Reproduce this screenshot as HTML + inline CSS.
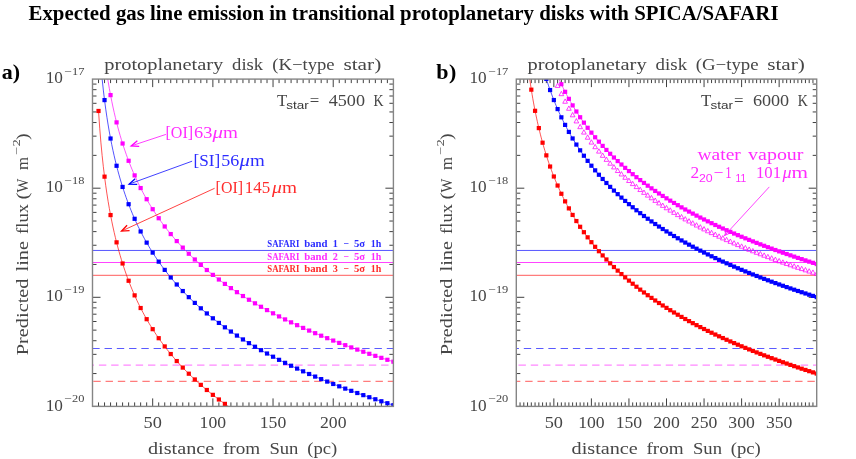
<!DOCTYPE html>
<html><head><meta charset="utf-8"><title>chart</title><style>html,body{margin:0;padding:0;background:#fff;}svg{display:block;will-change:transform;} svg text{font-family:"Liberation Serif",serif;} svg text.ss{font-family:"Liberation Sans",sans-serif;}</style></head><body>
<svg width="856" height="459" viewBox="0 0 856 459">
<rect width="856" height="459" fill="#fff"/>
<defs><clipPath id="clip1"><rect x="92.5" y="79.1" width="300.9" height="327.29999999999995"/></clipPath><clipPath id="clip2"><rect x="516.3" y="79.1" width="300.4000000000001" height="327.29999999999995"/></clipPath>
</defs>
<text x="28.50" y="19.55" font-size="20.5" fill="#000" font-weight="bold" textLength="750.00" lengthAdjust="spacingAndGlyphs">Expected gas line emission in transitional protoplanetary disks with SPICA/SAFARI</text>
<text transform="translate(1.80,78.70) scale(1,1)" font-size="22" fill="#000" font-weight="bold" textLength="18.30" lengthAdjust="spacing" >a)</text>
<text transform="translate(436.20,78.70) scale(1,1)" font-size="22" fill="#000" font-weight="bold" textLength="20.20" lengthAdjust="spacing" >b)</text>
<line x1="92.5" x2="393.4" y1="250.45" y2="250.45" stroke="#5656ff" stroke-width="1.0"/>
<line x1="92.5" x2="393.4" y1="262.5" y2="262.5" stroke="#ff44ff" stroke-width="1.0"/>
<line x1="92.5" x2="393.4" y1="275.3" y2="275.3" stroke="#ff7c7c" stroke-width="1.2"/>
<line x1="92.5" x2="393.4" y1="348.5" y2="348.5" stroke="#5a5aff" stroke-width="1.0" stroke-dasharray="7.4 4.87" stroke-dashoffset="0.23"/>
<line x1="92.5" x2="393.4" y1="365.15" y2="365.15" stroke="#ff88ff" stroke-width="1.4" stroke-dasharray="7.4 4.87" stroke-dashoffset="5.87"/>
<line x1="92.5" x2="393.4" y1="381.3" y2="381.3" stroke="#ff5c5c" stroke-width="1.0" stroke-dasharray="7.4 4.87" stroke-dashoffset="-0.8"/>
<path d="M98.52,79.1 v4 M98.52,406.4 v-4 M104.54,79.1 v4 M104.54,406.4 v-4 M110.55,79.1 v4 M110.55,406.4 v-4 M116.57,79.1 v4 M116.57,406.4 v-4 M122.59,79.1 v4 M122.59,406.4 v-4 M128.61,79.1 v4 M128.61,406.4 v-4 M134.63,79.1 v4 M134.63,406.4 v-4 M140.64,79.1 v4 M140.64,406.4 v-4 M146.66,79.1 v4 M146.66,406.4 v-4 M152.68,79.1 v8 M152.68,406.4 v-8 M158.70,79.1 v4 M158.70,406.4 v-4 M164.72,79.1 v4 M164.72,406.4 v-4 M170.73,79.1 v4 M170.73,406.4 v-4 M176.75,79.1 v4 M176.75,406.4 v-4 M182.77,79.1 v4 M182.77,406.4 v-4 M188.79,79.1 v4 M188.79,406.4 v-4 M194.81,79.1 v4 M194.81,406.4 v-4 M200.82,79.1 v4 M200.82,406.4 v-4 M206.84,79.1 v4 M206.84,406.4 v-4 M212.86,79.1 v8 M212.86,406.4 v-8 M218.88,79.1 v4 M218.88,406.4 v-4 M224.90,79.1 v4 M224.90,406.4 v-4 M230.91,79.1 v4 M230.91,406.4 v-4 M236.93,79.1 v4 M236.93,406.4 v-4 M242.95,79.1 v4 M242.95,406.4 v-4 M248.97,79.1 v4 M248.97,406.4 v-4 M254.99,79.1 v4 M254.99,406.4 v-4 M261.00,79.1 v4 M261.00,406.4 v-4 M267.02,79.1 v4 M267.02,406.4 v-4 M273.04,79.1 v8 M273.04,406.4 v-8 M279.06,79.1 v4 M279.06,406.4 v-4 M285.08,79.1 v4 M285.08,406.4 v-4 M291.09,79.1 v4 M291.09,406.4 v-4 M297.11,79.1 v4 M297.11,406.4 v-4 M303.13,79.1 v4 M303.13,406.4 v-4 M309.15,79.1 v4 M309.15,406.4 v-4 M315.17,79.1 v4 M315.17,406.4 v-4 M321.18,79.1 v4 M321.18,406.4 v-4 M327.20,79.1 v4 M327.20,406.4 v-4 M333.22,79.1 v8 M333.22,406.4 v-8 M339.24,79.1 v4 M339.24,406.4 v-4 M345.26,79.1 v4 M345.26,406.4 v-4 M351.27,79.1 v4 M351.27,406.4 v-4 M357.29,79.1 v4 M357.29,406.4 v-4 M363.31,79.1 v4 M363.31,406.4 v-4 M369.33,79.1 v4 M369.33,406.4 v-4 M375.35,79.1 v4 M375.35,406.4 v-4 M381.36,79.1 v4 M381.36,406.4 v-4 M387.38,79.1 v4 M387.38,406.4 v-4 M92.5,188.20 h8 M393.4,188.20 h-8 M92.5,155.36 h4 M393.4,155.36 h-4 M92.5,136.15 h4 M393.4,136.15 h-4 M92.5,122.52 h4 M393.4,122.52 h-4 M92.5,111.94 h4 M393.4,111.94 h-4 M92.5,103.30 h4 M393.4,103.30 h-4 M92.5,96.00 h4 M393.4,96.00 h-4 M92.5,89.67 h4 M393.4,89.67 h-4 M92.5,84.09 h4 M393.4,84.09 h-4 M92.5,297.30 h8 M393.4,297.30 h-8 M92.5,264.46 h4 M393.4,264.46 h-4 M92.5,245.25 h4 M393.4,245.25 h-4 M92.5,231.62 h4 M393.4,231.62 h-4 M92.5,221.04 h4 M393.4,221.04 h-4 M92.5,212.40 h4 M393.4,212.40 h-4 M92.5,205.10 h4 M393.4,205.10 h-4 M92.5,198.77 h4 M393.4,198.77 h-4 M92.5,193.19 h4 M393.4,193.19 h-4 M92.5,406.40 h8 M393.4,406.40 h-8 M92.5,373.56 h4 M393.4,373.56 h-4 M92.5,354.35 h4 M393.4,354.35 h-4 M92.5,340.72 h4 M393.4,340.72 h-4 M92.5,330.14 h4 M393.4,330.14 h-4 M92.5,321.50 h4 M393.4,321.50 h-4 M92.5,314.20 h4 M393.4,314.20 h-4 M92.5,307.87 h4 M393.4,307.87 h-4 M92.5,302.29 h4 M393.4,302.29 h-4" stroke="#2a2a2a" stroke-width="0.9" fill="none"/>
<g clip-path="url(#clip1)">
<polyline fill="none" stroke="#ff0000" stroke-width="0.8" stroke-opacity="0.85" points="98.52,110.97 99.72,128.24 100.93,142.85 102.13,155.51 103.33,166.67 104.54,176.65 105.74,185.68 106.94,193.93 108.15,201.51 109.35,208.54 110.55,215.07 111.76,221.19 112.96,226.94 114.16,232.35 115.37,237.48 116.57,242.34 117.78,246.96 118.98,251.37 120.18,255.58 121.39,259.61 122.59,263.48 123.79,267.20 125.00,270.78 126.20,274.22 127.40,277.55 128.61,280.76 129.81,283.87 131.02,286.88 132.22,289.79 133.42,292.62 134.63,295.37 135.83,298.04 137.03,300.63 138.24,303.16 139.44,305.62 140.64,308.02 141.85,310.36 143.05,312.64 144.25,314.87 145.46,317.05 146.66,319.18 147.87,321.27 149.07,323.30 150.27,325.30 151.48,327.25 152.68,329.17 153.88,331.04 155.09,332.88 156.29,334.69 157.49,336.46 158.70,338.20 159.90,339.91 161.11,341.58 162.31,343.23 163.51,344.85 164.72,346.44 165.92,348.01 167.12,349.55 168.33,351.07 169.53,352.56 170.73,354.03 171.94,355.48 173.14,356.90 174.34,358.31 175.55,359.69 176.75,361.05 177.96,362.40 179.16,363.72 180.36,365.03 181.57,366.32 182.77,367.59 183.97,368.85 185.18,370.08 186.38,371.31 187.58,372.51 188.79,373.71 189.99,374.88 191.20,376.05 192.40,377.19 193.60,378.33 194.81,379.45 196.01,380.56 197.21,381.65 198.42,382.74 199.62,383.81 200.82,384.87 202.03,385.91 203.23,386.95 204.43,387.97 205.64,388.99 206.84,389.99 208.05,390.98 209.25,391.97 210.45,392.94 211.66,393.90 212.86,394.85 214.06,395.79 215.27,396.73 216.47,397.65 217.67,398.57 218.88,399.48 220.08,400.37 221.29,401.26 222.49,402.14 223.69,403.02 224.90,403.88 226.10,404.74 227.30,405.59 228.51,406.43 229.71,407.27 230.91,408.10 232.12,408.92 233.32,409.73 234.52,410.54 235.73,411.34 236.93,412.13 238.14,412.92 239.34,413.70 240.54,414.47 241.75,415.24 242.95,416.00 244.15,416.75 245.36,417.50 246.56,418.24 247.76,418.98 248.97,419.71 250.17,420.44 251.38,421.16 252.58,421.88 253.78,422.59 254.99,423.29 256.19,423.99 257.39,424.68 258.60,425.37 259.80,426.06 261.00,426.74 262.21,427.41 263.41,428.08 264.61,428.75 265.82,429.41 267.02,430.06 268.23,430.71 269.43,431.36 270.63,432.00 271.84,432.64 273.04,433.27 274.24,433.90 275.45,434.53 276.65,435.15 277.85,435.77 279.06,436.38 280.26,436.99 281.47,437.60 282.67,438.20 283.87,438.80 285.08,439.39 286.28,439.98 287.48,440.57 288.69,441.15 289.89,441.73 291.09,442.31 292.30,442.88 293.50,443.45 294.70,444.01 295.91,444.58 297.11,445.14 298.32,445.69 299.52,446.24 300.72,446.79 301.93,447.34 303.13,447.88 304.33,448.42 305.54,448.96 306.74,449.49 307.94,450.02 309.15,450.55 310.35,451.08 311.56,451.60 312.76,452.12 313.96,452.63 315.17,453.15 316.37,453.66 317.57,454.17 318.78,454.67 319.98,455.18 321.18,455.68 322.39,456.17 323.59,456.67 324.79,457.16 326.00,457.65 327.20,458.14 328.41,458.62 329.61,459.10 330.81,459.58 332.02,460.06 333.22,460.54 334.42,461.01 335.63,461.48 336.83,461.95 338.03,462.41 339.24,462.88 340.44,463.34 341.65,463.80 342.85,464.25 344.05,464.71 345.26,465.16 346.46,465.61 347.66,466.06 348.87,466.50 350.07,466.95 351.27,467.39 352.48,467.83 353.68,468.27 354.88,468.70 356.09,469.14 357.29,469.57 358.50,470.00 359.70,470.43 360.90,470.85 362.11,471.28 363.31,471.70 364.51,472.12 365.72,472.54 366.92,472.95 368.12,473.37 369.33,473.78 370.53,474.19 371.74,474.60 372.94,475.01 374.14,475.41 375.35,475.82 376.55,476.22 377.75,476.62 378.96,477.02 380.16,477.42 381.36,477.81 382.57,478.21 383.77,478.60 384.97,478.99 386.18,479.38 387.38,479.77 388.59,480.15 389.79,480.54 390.99,480.92 392.20,481.30 393.40,481.68"/>
<g fill="#ff0000"><rect x="96.42" y="108.87" width="4.2" height="4.2"/><rect x="102.44" y="174.55" width="4.2" height="4.2"/><rect x="108.45" y="212.97" width="4.2" height="4.2"/><rect x="114.47" y="240.24" width="4.2" height="4.2"/><rect x="120.49" y="261.38" width="4.2" height="4.2"/><rect x="126.51" y="278.66" width="4.2" height="4.2"/><rect x="132.53" y="293.27" width="4.2" height="4.2"/><rect x="138.54" y="305.92" width="4.2" height="4.2"/><rect x="144.56" y="317.08" width="4.2" height="4.2"/><rect x="150.58" y="327.07" width="4.2" height="4.2"/><rect x="156.60" y="336.10" width="4.2" height="4.2"/><rect x="162.62" y="344.34" width="4.2" height="4.2"/><rect x="168.63" y="351.93" width="4.2" height="4.2"/><rect x="174.65" y="358.95" width="4.2" height="4.2"/><rect x="180.67" y="365.49" width="4.2" height="4.2"/><rect x="186.69" y="371.61" width="4.2" height="4.2"/><rect x="192.71" y="377.35" width="4.2" height="4.2"/><rect x="198.72" y="382.77" width="4.2" height="4.2"/><rect x="204.74" y="387.89" width="4.2" height="4.2"/><rect x="210.76" y="392.75" width="4.2" height="4.2"/><rect x="216.78" y="397.38" width="4.2" height="4.2"/><rect x="222.80" y="401.78" width="4.2" height="4.2"/><rect x="228.81" y="406.00" width="4.2" height="4.2"/><rect x="234.83" y="410.03" width="4.2" height="4.2"/><rect x="240.85" y="413.90" width="4.2" height="4.2"/><rect x="246.87" y="417.61" width="4.2" height="4.2"/><rect x="252.89" y="421.19" width="4.2" height="4.2"/><rect x="258.90" y="424.64" width="4.2" height="4.2"/><rect x="264.92" y="427.96" width="4.2" height="4.2"/><rect x="270.94" y="431.17" width="4.2" height="4.2"/><rect x="276.96" y="434.28" width="4.2" height="4.2"/><rect x="282.98" y="437.29" width="4.2" height="4.2"/><rect x="288.99" y="440.21" width="4.2" height="4.2"/><rect x="295.01" y="443.04" width="4.2" height="4.2"/><rect x="301.03" y="445.78" width="4.2" height="4.2"/><rect x="307.05" y="448.45" width="4.2" height="4.2"/><rect x="313.07" y="451.05" width="4.2" height="4.2"/><rect x="319.08" y="453.58" width="4.2" height="4.2"/><rect x="325.10" y="456.04" width="4.2" height="4.2"/><rect x="331.12" y="458.44" width="4.2" height="4.2"/><rect x="337.14" y="460.78" width="4.2" height="4.2"/><rect x="343.16" y="463.06" width="4.2" height="4.2"/><rect x="349.17" y="465.29" width="4.2" height="4.2"/><rect x="355.19" y="467.47" width="4.2" height="4.2"/><rect x="361.21" y="469.60" width="4.2" height="4.2"/><rect x="367.23" y="471.68" width="4.2" height="4.2"/><rect x="373.25" y="473.72" width="4.2" height="4.2"/><rect x="379.26" y="475.71" width="4.2" height="4.2"/><rect x="385.28" y="477.67" width="4.2" height="4.2"/><rect x="391.30" y="479.58" width="4.2" height="4.2"/></g>
<polyline fill="none" stroke="#0000ff" stroke-width="0.8" stroke-opacity="0.85" points="98.52,34.41 99.72,51.69 100.93,66.30 102.13,78.95 103.33,90.11 104.54,100.10 105.74,109.13 106.94,117.38 108.15,124.96 109.35,131.98 110.55,138.52 111.76,144.64 112.96,150.38 114.16,155.80 115.37,160.92 116.57,165.78 117.78,170.41 118.98,174.81 120.18,179.03 121.39,183.06 122.59,186.93 123.79,190.65 125.00,194.22 126.20,197.67 127.40,200.99 128.61,204.21 129.81,207.31 131.02,210.32 132.22,213.24 133.42,216.07 134.63,218.81 135.83,221.48 137.03,224.08 138.24,226.61 139.44,229.07 140.64,231.47 141.85,233.81 143.05,236.09 144.25,238.32 145.46,240.50 146.66,242.63 147.87,244.71 149.07,246.75 150.27,248.74 151.48,250.70 152.68,252.61 153.88,254.49 155.09,256.33 156.29,258.13 157.49,259.91 158.70,261.65 159.90,263.35 161.11,265.03 162.31,266.68 163.51,268.30 164.72,269.89 165.92,271.46 167.12,273.00 168.33,274.51 169.53,276.01 170.73,277.48 171.94,278.92 173.14,280.35 174.34,281.75 175.55,283.13 176.75,284.50 177.96,285.84 179.16,287.17 180.36,288.47 181.57,289.76 182.77,291.04 183.97,292.29 185.18,293.53 186.38,294.75 187.58,295.96 188.79,297.15 189.99,298.33 191.20,299.49 192.40,300.64 193.60,301.78 194.81,302.90 196.01,304.01 197.21,305.10 198.42,306.18 199.62,307.25 200.82,308.31 202.03,309.36 203.23,310.40 204.43,311.42 205.64,312.43 206.84,313.44 208.05,314.43 209.25,315.41 210.45,316.38 211.66,317.35 212.86,318.30 214.06,319.24 215.27,320.17 216.47,321.10 217.67,322.01 218.88,322.92 220.08,323.82 221.29,324.71 222.49,325.59 223.69,326.46 224.90,327.33 226.10,328.19 227.30,329.04 228.51,329.88 229.71,330.71 230.91,331.54 232.12,332.36 233.32,333.18 234.52,333.98 235.73,334.78 236.93,335.58 238.14,336.36 239.34,337.14 240.54,337.92 241.75,338.68 242.95,339.44 244.15,340.20 245.36,340.95 246.56,341.69 247.76,342.43 248.97,343.16 250.17,343.89 251.38,344.61 252.58,345.32 253.78,346.03 254.99,346.74 256.19,347.44 257.39,348.13 258.60,348.82 259.80,349.50 261.00,350.18 262.21,350.86 263.41,351.53 264.61,352.19 265.82,352.85 267.02,353.51 268.23,354.16 269.43,354.81 270.63,355.45 271.84,356.09 273.04,356.72 274.24,357.35 275.45,357.98 276.65,358.60 277.85,359.21 279.06,359.83 280.26,360.44 281.47,361.04 282.67,361.64 283.87,362.24 285.08,362.84 286.28,363.43 287.48,364.01 288.69,364.60 289.89,365.18 291.09,365.75 292.30,366.33 293.50,366.89 294.70,367.46 295.91,368.02 297.11,368.58 298.32,369.14 299.52,369.69 300.72,370.24 301.93,370.79 303.13,371.33 304.33,371.87 305.54,372.41 306.74,372.94 307.94,373.47 309.15,374.00 310.35,374.52 311.56,375.05 312.76,375.56 313.96,376.08 315.17,376.59 316.37,377.11 317.57,377.61 318.78,378.12 319.98,378.62 321.18,379.12 322.39,379.62 323.59,380.11 324.79,380.61 326.00,381.10 327.20,381.58 328.41,382.07 329.61,382.55 330.81,383.03 332.02,383.51 333.22,383.98 334.42,384.46 335.63,384.93 336.83,385.39 338.03,385.86 339.24,386.32 340.44,386.78 341.65,387.24 342.85,387.70 344.05,388.15 345.26,388.61 346.46,389.06 347.66,389.50 348.87,389.95 350.07,390.39 351.27,390.84 352.48,391.28 353.68,391.71 354.88,392.15 356.09,392.58 357.29,393.01 358.50,393.44 359.70,393.87 360.90,394.30 362.11,394.72 363.31,395.14 364.51,395.56 365.72,395.98 366.92,396.40 368.12,396.81 369.33,397.23 370.53,397.64 371.74,398.05 372.94,398.45 374.14,398.86 375.35,399.26 376.55,399.67 377.75,400.07 378.96,400.47 380.16,400.86 381.36,401.26 382.57,401.65 383.77,402.05 384.97,402.44 386.18,402.83 387.38,403.21 388.59,403.60 389.79,403.98 390.99,404.37 392.20,404.75 393.40,405.13"/>
<g fill="#0000ff"><rect x="96.42" y="32.31" width="4.2" height="4.2"/><rect x="102.44" y="98.00" width="4.2" height="4.2"/><rect x="108.45" y="136.42" width="4.2" height="4.2"/><rect x="114.47" y="163.68" width="4.2" height="4.2"/><rect x="120.49" y="184.83" width="4.2" height="4.2"/><rect x="126.51" y="202.11" width="4.2" height="4.2"/><rect x="132.53" y="216.71" width="4.2" height="4.2"/><rect x="138.54" y="229.37" width="4.2" height="4.2"/><rect x="144.56" y="240.53" width="4.2" height="4.2"/><rect x="150.58" y="250.51" width="4.2" height="4.2"/><rect x="156.60" y="259.55" width="4.2" height="4.2"/><rect x="162.62" y="267.79" width="4.2" height="4.2"/><rect x="168.63" y="275.38" width="4.2" height="4.2"/><rect x="174.65" y="282.40" width="4.2" height="4.2"/><rect x="180.67" y="288.94" width="4.2" height="4.2"/><rect x="186.69" y="295.05" width="4.2" height="4.2"/><rect x="192.71" y="300.80" width="4.2" height="4.2"/><rect x="198.72" y="306.21" width="4.2" height="4.2"/><rect x="204.74" y="311.34" width="4.2" height="4.2"/><rect x="210.76" y="316.20" width="4.2" height="4.2"/><rect x="216.78" y="320.82" width="4.2" height="4.2"/><rect x="222.80" y="325.23" width="4.2" height="4.2"/><rect x="228.81" y="329.44" width="4.2" height="4.2"/><rect x="234.83" y="333.48" width="4.2" height="4.2"/><rect x="240.85" y="337.34" width="4.2" height="4.2"/><rect x="246.87" y="341.06" width="4.2" height="4.2"/><rect x="252.89" y="344.64" width="4.2" height="4.2"/><rect x="258.90" y="348.08" width="4.2" height="4.2"/><rect x="264.92" y="351.41" width="4.2" height="4.2"/><rect x="270.94" y="354.62" width="4.2" height="4.2"/><rect x="276.96" y="357.73" width="4.2" height="4.2"/><rect x="282.98" y="360.74" width="4.2" height="4.2"/><rect x="288.99" y="363.65" width="4.2" height="4.2"/><rect x="295.01" y="366.48" width="4.2" height="4.2"/><rect x="301.03" y="369.23" width="4.2" height="4.2"/><rect x="307.05" y="371.90" width="4.2" height="4.2"/><rect x="313.07" y="374.49" width="4.2" height="4.2"/><rect x="319.08" y="377.02" width="4.2" height="4.2"/><rect x="325.10" y="379.48" width="4.2" height="4.2"/><rect x="331.12" y="381.88" width="4.2" height="4.2"/><rect x="337.14" y="384.22" width="4.2" height="4.2"/><rect x="343.16" y="386.51" width="4.2" height="4.2"/><rect x="349.17" y="388.74" width="4.2" height="4.2"/><rect x="355.19" y="390.91" width="4.2" height="4.2"/><rect x="361.21" y="393.04" width="4.2" height="4.2"/><rect x="367.23" y="395.13" width="4.2" height="4.2"/><rect x="373.25" y="397.16" width="4.2" height="4.2"/><rect x="379.26" y="399.16" width="4.2" height="4.2"/><rect x="385.28" y="401.11" width="4.2" height="4.2"/><rect x="391.30" y="403.03" width="4.2" height="4.2"/></g>
<polyline fill="none" stroke="#ff00ff" stroke-width="0.8" stroke-opacity="0.85" points="98.52,-9.00 99.72,8.28 100.93,22.88 102.13,35.54 103.33,46.70 104.54,56.68 105.74,65.71 106.94,73.96 108.15,81.55 109.35,88.57 110.55,95.11 111.76,101.22 112.96,106.97 114.16,112.38 115.37,117.51 116.57,122.37 117.78,126.99 118.98,131.40 120.18,135.61 121.39,139.64 122.59,143.51 123.79,147.23 125.00,150.81 126.20,154.25 127.40,157.58 128.61,160.79 129.81,163.90 131.02,166.91 132.22,169.82 133.42,172.65 134.63,175.40 135.83,178.07 137.03,180.66 138.24,183.19 139.44,185.65 140.64,188.05 141.85,190.39 143.05,192.68 144.25,194.91 145.46,197.08 146.66,199.21 147.87,201.30 149.07,203.33 150.27,205.33 151.48,207.28 152.68,209.20 153.88,211.07 155.09,212.91 156.29,214.72 157.49,216.49 158.70,218.23 159.90,219.94 161.11,221.61 162.31,223.26 163.51,224.88 164.72,226.48 165.92,228.04 167.12,229.58 168.33,231.10 169.53,232.59 170.73,234.06 171.94,235.51 173.14,236.93 174.34,238.34 175.55,239.72 176.75,241.08 177.96,242.43 179.16,243.75 180.36,245.06 181.57,246.35 182.77,247.62 183.97,248.88 185.18,250.11 186.38,251.34 187.58,252.54 188.79,253.74 189.99,254.91 191.20,256.08 192.40,257.23 193.60,258.36 194.81,259.48 196.01,260.59 197.21,261.69 198.42,262.77 199.62,263.84 200.82,264.90 202.03,265.95 203.23,266.98 204.43,268.01 205.64,269.02 206.84,270.02 208.05,271.01 209.25,272.00 210.45,272.97 211.66,273.93 212.86,274.88 214.06,275.83 215.27,276.76 216.47,277.68 217.67,278.60 218.88,279.51 220.08,280.40 221.29,281.29 222.49,282.18 223.69,283.05 224.90,283.91 226.10,284.77 227.30,285.62 228.51,286.46 229.71,287.30 230.91,288.13 232.12,288.95 233.32,289.76 234.52,290.57 235.73,291.37 236.93,292.16 238.14,292.95 239.34,293.73 240.54,294.50 241.75,295.27 242.95,296.03 244.15,296.78 245.36,297.53 246.56,298.28 247.76,299.01 248.97,299.75 250.17,300.47 251.38,301.19 252.58,301.91 253.78,302.62 254.99,303.32 256.19,304.02 257.39,304.72 258.60,305.40 259.80,306.09 261.00,306.77 262.21,307.44 263.41,308.11 264.61,308.78 265.82,309.44 267.02,310.09 268.23,310.74 269.43,311.39 270.63,312.03 271.84,312.67 273.04,313.31 274.24,313.94 275.45,314.56 276.65,315.18 277.85,315.80 279.06,316.41 280.26,317.02 281.47,317.63 282.67,318.23 283.87,318.83 285.08,319.42 286.28,320.01 287.48,320.60 288.69,321.18 289.89,321.76 291.09,322.34 292.30,322.91 293.50,323.48 294.70,324.05 295.91,324.61 297.11,325.17 298.32,325.72 299.52,326.27 300.72,326.82 301.93,327.37 303.13,327.91 304.33,328.45 305.54,328.99 306.74,329.52 307.94,330.06 309.15,330.58 310.35,331.11 311.56,331.63 312.76,332.15 313.96,332.67 315.17,333.18 316.37,333.69 317.57,334.20 318.78,334.70 319.98,335.21 321.18,335.71 322.39,336.20 323.59,336.70 324.79,337.19 326.00,337.68 327.20,338.17 328.41,338.65 329.61,339.14 330.81,339.62 332.02,340.09 333.22,340.57 334.42,341.04 335.63,341.51 336.83,341.98 338.03,342.44 339.24,342.91 340.44,343.37 341.65,343.83 342.85,344.28 344.05,344.74 345.26,345.19 346.46,345.64 347.66,346.09 348.87,346.54 350.07,346.98 351.27,347.42 352.48,347.86 353.68,348.30 354.88,348.73 356.09,349.17 357.29,349.60 358.50,350.03 359.70,350.46 360.90,350.88 362.11,351.31 363.31,351.73 364.51,352.15 365.72,352.57 366.92,352.98 368.12,353.40 369.33,353.81 370.53,354.22 371.74,354.63 372.94,355.04 374.14,355.45 375.35,355.85 376.55,356.25 377.75,356.65 378.96,357.05 380.16,357.45 381.36,357.84 382.57,358.24 383.77,358.63 384.97,359.02 386.18,359.41 387.38,359.80 388.59,360.18 389.79,360.57 390.99,360.95 392.20,361.33 393.40,361.71"/>
<g fill="#ff00ff"><rect x="96.42" y="-11.10" width="4.2" height="4.2"/><rect x="102.44" y="54.58" width="4.2" height="4.2"/><rect x="108.45" y="93.01" width="4.2" height="4.2"/><rect x="114.47" y="120.27" width="4.2" height="4.2"/><rect x="120.49" y="141.41" width="4.2" height="4.2"/><rect x="126.51" y="158.69" width="4.2" height="4.2"/><rect x="132.53" y="173.30" width="4.2" height="4.2"/><rect x="138.54" y="185.95" width="4.2" height="4.2"/><rect x="144.56" y="197.11" width="4.2" height="4.2"/><rect x="150.58" y="207.10" width="4.2" height="4.2"/><rect x="156.60" y="216.13" width="4.2" height="4.2"/><rect x="162.62" y="224.38" width="4.2" height="4.2"/><rect x="168.63" y="231.96" width="4.2" height="4.2"/><rect x="174.65" y="238.98" width="4.2" height="4.2"/><rect x="180.67" y="245.52" width="4.2" height="4.2"/><rect x="186.69" y="251.64" width="4.2" height="4.2"/><rect x="192.71" y="257.38" width="4.2" height="4.2"/><rect x="198.72" y="262.80" width="4.2" height="4.2"/><rect x="204.74" y="267.92" width="4.2" height="4.2"/><rect x="210.76" y="272.78" width="4.2" height="4.2"/><rect x="216.78" y="277.41" width="4.2" height="4.2"/><rect x="222.80" y="281.81" width="4.2" height="4.2"/><rect x="228.81" y="286.03" width="4.2" height="4.2"/><rect x="234.83" y="290.06" width="4.2" height="4.2"/><rect x="240.85" y="293.93" width="4.2" height="4.2"/><rect x="246.87" y="297.65" width="4.2" height="4.2"/><rect x="252.89" y="301.22" width="4.2" height="4.2"/><rect x="258.90" y="304.67" width="4.2" height="4.2"/><rect x="264.92" y="307.99" width="4.2" height="4.2"/><rect x="270.94" y="311.21" width="4.2" height="4.2"/><rect x="276.96" y="314.31" width="4.2" height="4.2"/><rect x="282.98" y="317.32" width="4.2" height="4.2"/><rect x="288.99" y="320.24" width="4.2" height="4.2"/><rect x="295.01" y="323.07" width="4.2" height="4.2"/><rect x="301.03" y="325.81" width="4.2" height="4.2"/><rect x="307.05" y="328.48" width="4.2" height="4.2"/><rect x="313.07" y="331.08" width="4.2" height="4.2"/><rect x="319.08" y="333.61" width="4.2" height="4.2"/><rect x="325.10" y="336.07" width="4.2" height="4.2"/><rect x="331.12" y="338.47" width="4.2" height="4.2"/><rect x="337.14" y="340.81" width="4.2" height="4.2"/><rect x="343.16" y="343.09" width="4.2" height="4.2"/><rect x="349.17" y="345.32" width="4.2" height="4.2"/><rect x="355.19" y="347.50" width="4.2" height="4.2"/><rect x="361.21" y="349.63" width="4.2" height="4.2"/><rect x="367.23" y="351.71" width="4.2" height="4.2"/><rect x="373.25" y="353.75" width="4.2" height="4.2"/><rect x="379.26" y="355.74" width="4.2" height="4.2"/><rect x="385.28" y="357.70" width="4.2" height="4.2"/><rect x="391.30" y="359.61" width="4.2" height="4.2"/></g>
</g>
<rect x="92.5" y="79.1" width="300.9" height="327.29999999999995" fill="none" stroke="#858585" stroke-width="1.4"/>
<text x="45.70" y="83.20" font-size="16" fill="#464646" font-weight="normal" textLength="17.20" lengthAdjust="spacingAndGlyphs">10</text>
<text x="64.10" y="74.60" font-size="10.8" fill="#464646" font-weight="normal" textLength="7.60" lengthAdjust="spacingAndGlyphs">−</text>
<text x="72.10" y="74.60" font-size="10.8" fill="#464646" font-weight="normal" textLength="12.40" lengthAdjust="spacingAndGlyphs">17</text>
<text x="45.70" y="192.30" font-size="16" fill="#464646" font-weight="normal" textLength="17.20" lengthAdjust="spacingAndGlyphs">10</text>
<text x="64.10" y="183.70" font-size="10.8" fill="#464646" font-weight="normal" textLength="7.60" lengthAdjust="spacingAndGlyphs">−</text>
<text x="72.10" y="183.70" font-size="10.8" fill="#464646" font-weight="normal" textLength="12.40" lengthAdjust="spacingAndGlyphs">18</text>
<text x="45.70" y="301.40" font-size="16" fill="#464646" font-weight="normal" textLength="17.20" lengthAdjust="spacingAndGlyphs">10</text>
<text x="64.10" y="292.80" font-size="10.8" fill="#464646" font-weight="normal" textLength="7.60" lengthAdjust="spacingAndGlyphs">−</text>
<text x="72.10" y="292.80" font-size="10.8" fill="#464646" font-weight="normal" textLength="12.40" lengthAdjust="spacingAndGlyphs">19</text>
<text x="45.70" y="410.50" font-size="16" fill="#464646" font-weight="normal" textLength="17.20" lengthAdjust="spacingAndGlyphs">10</text>
<text x="64.10" y="401.90" font-size="10.8" fill="#464646" font-weight="normal" textLength="7.60" lengthAdjust="spacingAndGlyphs">−</text>
<text x="72.10" y="401.90" font-size="10.8" fill="#464646" font-weight="normal" textLength="12.40" lengthAdjust="spacingAndGlyphs">20</text>
<text x="143.53" y="427.60" font-size="16" fill="#464646" font-weight="normal" textLength="18.30" lengthAdjust="spacingAndGlyphs">50</text>
<text x="199.61" y="427.60" font-size="16" fill="#464646" font-weight="normal" textLength="26.50" lengthAdjust="spacingAndGlyphs">100</text>
<text x="259.79" y="427.60" font-size="16" fill="#464646" font-weight="normal" textLength="26.50" lengthAdjust="spacingAndGlyphs">150</text>
<text x="319.97" y="427.60" font-size="16" fill="#464646" font-weight="normal" textLength="26.50" lengthAdjust="spacingAndGlyphs">200</text>
<path d="M769.3,186.9 L724,236.2" stroke="#ff30ff" stroke-width="0.9" fill="none"/>
<line x1="516.3" x2="816.7" y1="250.45" y2="250.45" stroke="#5656ff" stroke-width="1.0"/>
<line x1="516.3" x2="816.7" y1="262.5" y2="262.5" stroke="#ff44ff" stroke-width="1.0"/>
<line x1="516.3" x2="816.7" y1="275.3" y2="275.3" stroke="#ff7c7c" stroke-width="1.2"/>
<line x1="516.3" x2="816.7" y1="348.5" y2="348.5" stroke="#5a5aff" stroke-width="1.0" stroke-dasharray="7.4 4.87" stroke-dashoffset="4.77"/>
<line x1="516.3" x2="816.7" y1="365.15" y2="365.15" stroke="#ff88ff" stroke-width="1.4" stroke-dasharray="7.4 4.87" stroke-dashoffset="10.07"/>
<line x1="516.3" x2="816.7" y1="381.3" y2="381.3" stroke="#ff5c5c" stroke-width="1.0" stroke-dasharray="7.4 4.87" stroke-dashoffset="3.37"/>
<path d="M520.05,79.1 v4 M520.05,406.4 v-4 M523.81,79.1 v4 M523.81,406.4 v-4 M527.56,79.1 v4 M527.56,406.4 v-4 M531.32,79.1 v4 M531.32,406.4 v-4 M535.07,79.1 v4 M535.07,406.4 v-4 M538.83,79.1 v4 M538.83,406.4 v-4 M542.58,79.1 v4 M542.58,406.4 v-4 M546.34,79.1 v4 M546.34,406.4 v-4 M550.09,79.1 v4 M550.09,406.4 v-4 M553.85,79.1 v8 M553.85,406.4 v-8 M557.61,79.1 v4 M557.61,406.4 v-4 M561.36,79.1 v4 M561.36,406.4 v-4 M565.12,79.1 v4 M565.12,406.4 v-4 M568.87,79.1 v4 M568.87,406.4 v-4 M572.62,79.1 v4 M572.62,406.4 v-4 M576.38,79.1 v4 M576.38,406.4 v-4 M580.13,79.1 v4 M580.13,406.4 v-4 M583.89,79.1 v4 M583.89,406.4 v-4 M587.64,79.1 v4 M587.64,406.4 v-4 M591.40,79.1 v8 M591.40,406.4 v-8 M595.15,79.1 v4 M595.15,406.4 v-4 M598.91,79.1 v4 M598.91,406.4 v-4 M602.66,79.1 v4 M602.66,406.4 v-4 M606.42,79.1 v4 M606.42,406.4 v-4 M610.17,79.1 v4 M610.17,406.4 v-4 M613.93,79.1 v4 M613.93,406.4 v-4 M617.68,79.1 v4 M617.68,406.4 v-4 M621.44,79.1 v4 M621.44,406.4 v-4 M625.19,79.1 v4 M625.19,406.4 v-4 M628.95,79.1 v8 M628.95,406.4 v-8 M632.70,79.1 v4 M632.70,406.4 v-4 M636.46,79.1 v4 M636.46,406.4 v-4 M640.22,79.1 v4 M640.22,406.4 v-4 M643.97,79.1 v4 M643.97,406.4 v-4 M647.73,79.1 v4 M647.73,406.4 v-4 M651.48,79.1 v4 M651.48,406.4 v-4 M655.24,79.1 v4 M655.24,406.4 v-4 M658.99,79.1 v4 M658.99,406.4 v-4 M662.75,79.1 v4 M662.75,406.4 v-4 M666.50,79.1 v8 M666.50,406.4 v-8 M670.25,79.1 v4 M670.25,406.4 v-4 M674.01,79.1 v4 M674.01,406.4 v-4 M677.76,79.1 v4 M677.76,406.4 v-4 M681.52,79.1 v4 M681.52,406.4 v-4 M685.27,79.1 v4 M685.27,406.4 v-4 M689.03,79.1 v4 M689.03,406.4 v-4 M692.78,79.1 v4 M692.78,406.4 v-4 M696.54,79.1 v4 M696.54,406.4 v-4 M700.30,79.1 v4 M700.30,406.4 v-4 M704.05,79.1 v8 M704.05,406.4 v-8 M707.81,79.1 v4 M707.81,406.4 v-4 M711.56,79.1 v4 M711.56,406.4 v-4 M715.32,79.1 v4 M715.32,406.4 v-4 M719.07,79.1 v4 M719.07,406.4 v-4 M722.83,79.1 v4 M722.83,406.4 v-4 M726.58,79.1 v4 M726.58,406.4 v-4 M730.34,79.1 v4 M730.34,406.4 v-4 M734.09,79.1 v4 M734.09,406.4 v-4 M737.85,79.1 v4 M737.85,406.4 v-4 M741.60,79.1 v8 M741.60,406.4 v-8 M745.36,79.1 v4 M745.36,406.4 v-4 M749.11,79.1 v4 M749.11,406.4 v-4 M752.87,79.1 v4 M752.87,406.4 v-4 M756.62,79.1 v4 M756.62,406.4 v-4 M760.38,79.1 v4 M760.38,406.4 v-4 M764.13,79.1 v4 M764.13,406.4 v-4 M767.88,79.1 v4 M767.88,406.4 v-4 M771.64,79.1 v4 M771.64,406.4 v-4 M775.39,79.1 v4 M775.39,406.4 v-4 M779.15,79.1 v8 M779.15,406.4 v-8 M782.90,79.1 v4 M782.90,406.4 v-4 M786.66,79.1 v4 M786.66,406.4 v-4 M790.41,79.1 v4 M790.41,406.4 v-4 M794.17,79.1 v4 M794.17,406.4 v-4 M797.92,79.1 v4 M797.92,406.4 v-4 M801.68,79.1 v4 M801.68,406.4 v-4 M805.44,79.1 v4 M805.44,406.4 v-4 M809.19,79.1 v4 M809.19,406.4 v-4 M812.95,79.1 v4 M812.95,406.4 v-4 M516.3,188.20 h8 M816.7,188.20 h-8 M516.3,155.36 h4 M816.7,155.36 h-4 M516.3,136.15 h4 M816.7,136.15 h-4 M516.3,122.52 h4 M816.7,122.52 h-4 M516.3,111.94 h4 M816.7,111.94 h-4 M516.3,103.30 h4 M816.7,103.30 h-4 M516.3,96.00 h4 M816.7,96.00 h-4 M516.3,89.67 h4 M816.7,89.67 h-4 M516.3,84.09 h4 M816.7,84.09 h-4 M516.3,297.30 h8 M816.7,297.30 h-8 M516.3,264.46 h4 M816.7,264.46 h-4 M516.3,245.25 h4 M816.7,245.25 h-4 M516.3,231.62 h4 M816.7,231.62 h-4 M516.3,221.04 h4 M816.7,221.04 h-4 M516.3,212.40 h4 M816.7,212.40 h-4 M516.3,205.10 h4 M816.7,205.10 h-4 M516.3,198.77 h4 M816.7,198.77 h-4 M516.3,193.19 h4 M816.7,193.19 h-4 M516.3,406.40 h8 M816.7,406.40 h-8 M516.3,373.56 h4 M816.7,373.56 h-4 M516.3,354.35 h4 M816.7,354.35 h-4 M516.3,340.72 h4 M816.7,340.72 h-4 M516.3,330.14 h4 M816.7,330.14 h-4 M516.3,321.50 h4 M816.7,321.50 h-4 M516.3,314.20 h4 M816.7,314.20 h-4 M516.3,307.87 h4 M816.7,307.87 h-4 M516.3,302.29 h4 M816.7,302.29 h-4" stroke="#2a2a2a" stroke-width="0.9" fill="none"/>
<g clip-path="url(#clip2)">
<polyline fill="none" stroke="#ff0000" stroke-width="0.8" stroke-opacity="0.85" points="520.05,-41.70 520.81,-24.42 521.56,-9.81 522.31,2.84 523.06,14.00 523.81,23.99 524.56,33.02 525.31,41.27 526.06,48.85 526.81,55.87 527.56,62.41 528.32,68.53 529.07,74.27 529.82,79.69 530.57,84.81 531.32,89.67 532.07,94.30 532.82,98.70 533.57,102.92 534.32,106.95 535.07,110.82 535.83,114.54 536.58,118.11 537.33,121.56 538.08,124.88 538.83,128.10 539.58,131.20 540.33,134.21 541.08,137.13 541.83,139.96 542.58,142.70 543.34,145.37 544.09,147.97 544.84,150.50 545.59,152.96 546.34,155.36 547.09,157.70 547.84,159.98 548.59,162.21 549.34,164.39 550.09,166.52 550.85,168.60 551.60,170.64 552.35,172.63 553.10,174.59 553.85,176.50 554.60,178.38 555.35,180.22 556.10,182.03 556.85,183.80 557.61,185.54 558.36,187.24 559.11,188.92 559.86,190.57 560.61,192.19 561.36,193.78 562.11,195.35 562.86,196.89 563.61,198.40 564.36,199.90 565.12,201.37 565.87,202.81 566.62,204.24 567.37,205.64 568.12,207.03 568.87,208.39 569.62,209.73 570.37,211.06 571.12,212.37 571.87,213.65 572.62,214.93 573.38,216.18 574.13,217.42 574.88,218.64 575.63,219.85 576.38,221.04 577.13,222.22 577.88,223.38 578.63,224.53 579.38,225.67 580.13,226.79 580.89,227.90 581.64,228.99 582.39,230.07 583.14,231.15 583.89,232.20 584.64,233.25 585.39,234.29 586.14,235.31 586.89,236.32 587.64,237.33 588.40,238.32 589.15,239.30 589.90,240.27 590.65,241.24 591.40,242.19 592.15,243.13 592.90,244.06 593.65,244.99 594.40,245.90 595.15,246.81 595.91,247.71 596.66,248.60 597.41,249.48 598.16,250.35 598.91,251.22 599.66,252.08 600.41,252.93 601.16,253.77 601.91,254.60 602.66,255.43 603.42,256.25 604.17,257.07 604.92,257.87 605.67,258.67 606.42,259.47 607.17,260.25 607.92,261.03 608.67,261.81 609.42,262.57 610.17,263.33 610.93,264.09 611.68,264.84 612.43,265.58 613.18,266.32 613.93,267.05 614.68,267.78 615.43,268.50 616.18,269.21 616.93,269.92 617.68,270.63 618.44,271.33 619.19,272.02 619.94,272.71 620.69,273.39 621.44,274.07 622.19,274.75 622.94,275.42 623.69,276.08 624.44,276.74 625.19,277.40 625.95,278.05 626.70,278.70 627.45,279.34 628.20,279.98 628.95,280.61 629.70,281.24 630.45,281.87 631.20,282.49 631.95,283.11 632.70,283.72 633.46,284.33 634.21,284.93 634.96,285.54 635.71,286.13 636.46,286.73 637.21,287.32 637.96,287.90 638.71,288.49 639.46,289.07 640.22,289.64 640.97,290.22 641.72,290.78 642.47,291.35 643.22,291.91 643.97,292.47 644.72,293.03 645.47,293.58 646.22,294.13 646.97,294.68 647.73,295.22 648.48,295.76 649.23,296.30 649.98,296.83 650.73,297.36 651.48,297.89 652.23,298.41 652.98,298.94 653.73,299.45 654.48,299.97 655.24,300.49 655.99,301.00 656.74,301.50 657.49,302.01 658.24,302.51 658.99,303.01 659.74,303.51 660.49,304.00 661.24,304.50 661.99,304.99 662.75,305.47 663.50,305.96 664.25,306.44 665.00,306.92 665.75,307.40 666.50,307.87 667.25,308.35 668.00,308.82 668.75,309.28 669.50,309.75 670.25,310.21 671.01,310.67 671.76,311.13 672.51,311.59 673.26,312.04 674.01,312.50 674.76,312.95 675.51,313.39 676.26,313.84 677.01,314.28 677.76,314.73 678.52,315.17 679.27,315.60 680.02,316.04 680.77,316.47 681.52,316.90 682.27,317.33 683.02,317.76 683.77,318.19 684.52,318.61 685.27,319.03 686.03,319.45 686.78,319.87 687.53,320.29 688.28,320.70 689.03,321.12 689.78,321.53 690.53,321.94 691.28,322.35 692.03,322.75 692.78,323.16 693.54,323.56 694.29,323.96 695.04,324.36 695.79,324.75 696.54,325.15 697.29,325.54 698.04,325.94 698.79,326.33 699.54,326.72 700.30,327.10 701.05,327.49 701.80,327.87 702.55,328.26 703.30,328.64 704.05,329.02 704.80,329.40 705.55,329.77 706.30,330.15 707.05,330.52 707.81,330.90 708.56,331.27 709.31,331.64 710.06,332.00 710.81,332.37 711.56,332.74 712.31,333.10 713.06,333.46 713.81,333.82 714.56,334.18 715.32,334.54 716.07,334.90 716.82,335.25 717.57,335.61 718.32,335.96 719.07,336.31 719.82,336.66 720.57,337.01 721.32,337.36 722.07,337.71 722.83,338.05 723.58,338.39 724.33,338.74 725.08,339.08 725.83,339.42 726.58,339.76 727.33,340.10 728.08,340.43 728.83,340.77 729.58,341.10 730.34,341.44 731.09,341.77 731.84,342.10 732.59,342.43 733.34,342.76 734.09,343.08 734.84,343.41 735.59,343.73 736.34,344.06 737.09,344.38 737.85,344.70 738.60,345.02 739.35,345.34 740.10,345.66 740.85,345.98 741.60,346.30 742.35,346.61 743.10,346.93 743.85,347.24 744.60,347.55 745.36,347.86 746.11,348.17 746.86,348.48 747.61,348.79 748.36,349.10 749.11,349.40 749.86,349.71 750.61,350.01 751.36,350.32 752.11,350.62 752.87,350.92 753.62,351.22 754.37,351.52 755.12,351.82 755.87,352.12 756.62,352.41 757.37,352.71 758.12,353.00 758.87,353.30 759.62,353.59 760.38,353.88 761.13,354.17 761.88,354.46 762.63,354.75 763.38,355.04 764.13,355.33 764.88,355.61 765.63,355.90 766.38,356.19 767.13,356.47 767.88,356.75 768.64,357.04 769.39,357.32 770.14,357.60 770.89,357.88 771.64,358.16 772.39,358.44 773.14,358.71 773.89,358.99 774.64,359.27 775.39,359.54 776.15,359.81 776.90,360.09 777.65,360.36 778.40,360.63 779.15,360.90 779.90,361.17 780.65,361.44 781.40,361.71 782.15,361.98 782.90,362.25 783.66,362.51 784.41,362.78 785.16,363.05 785.91,363.31 786.66,363.57 787.41,363.84 788.16,364.10 788.91,364.36 789.66,364.62 790.41,364.88 791.17,365.14 791.92,365.40 792.67,365.66 793.42,365.91 794.17,366.17 794.92,366.43 795.67,366.68 796.42,366.94 797.17,367.19 797.92,367.44 798.68,367.69 799.43,367.95 800.18,368.20 800.93,368.45 801.68,368.70 802.43,368.95 803.18,369.19 803.93,369.44 804.68,369.69 805.44,369.94 806.19,370.18 806.94,370.43 807.69,370.67 808.44,370.92 809.19,371.16 809.94,371.40 810.69,371.64 811.44,371.88 812.19,372.13 812.95,372.37 813.70,372.61 814.45,372.84 815.20,373.08 815.95,373.32 816.70,373.56"/>
<g fill="#ff0000"><rect x="517.95" y="-43.80" width="4.2" height="4.2"/><rect x="521.71" y="21.89" width="4.2" height="4.2"/><rect x="525.46" y="60.31" width="4.2" height="4.2"/><rect x="529.22" y="87.57" width="4.2" height="4.2"/><rect x="532.97" y="108.72" width="4.2" height="4.2"/><rect x="536.73" y="126.00" width="4.2" height="4.2"/><rect x="540.48" y="140.60" width="4.2" height="4.2"/><rect x="544.24" y="153.26" width="4.2" height="4.2"/><rect x="547.99" y="164.42" width="4.2" height="4.2"/><rect x="551.75" y="174.40" width="4.2" height="4.2"/><rect x="555.50" y="183.44" width="4.2" height="4.2"/><rect x="559.26" y="191.68" width="4.2" height="4.2"/><rect x="563.01" y="199.27" width="4.2" height="4.2"/><rect x="566.77" y="206.29" width="4.2" height="4.2"/><rect x="570.52" y="212.83" width="4.2" height="4.2"/><rect x="574.28" y="218.94" width="4.2" height="4.2"/><rect x="578.03" y="224.69" width="4.2" height="4.2"/><rect x="581.79" y="230.10" width="4.2" height="4.2"/><rect x="585.54" y="235.23" width="4.2" height="4.2"/><rect x="589.30" y="240.09" width="4.2" height="4.2"/><rect x="593.05" y="244.71" width="4.2" height="4.2"/><rect x="596.81" y="249.12" width="4.2" height="4.2"/><rect x="600.56" y="253.33" width="4.2" height="4.2"/><rect x="604.32" y="257.37" width="4.2" height="4.2"/><rect x="608.07" y="261.23" width="4.2" height="4.2"/><rect x="611.83" y="264.95" width="4.2" height="4.2"/><rect x="615.58" y="268.53" width="4.2" height="4.2"/><rect x="619.34" y="271.97" width="4.2" height="4.2"/><rect x="623.09" y="275.30" width="4.2" height="4.2"/><rect x="626.85" y="278.51" width="4.2" height="4.2"/><rect x="630.60" y="281.62" width="4.2" height="4.2"/><rect x="634.36" y="284.63" width="4.2" height="4.2"/><rect x="638.12" y="287.54" width="4.2" height="4.2"/><rect x="641.87" y="290.37" width="4.2" height="4.2"/><rect x="645.62" y="293.12" width="4.2" height="4.2"/><rect x="649.38" y="295.79" width="4.2" height="4.2"/><rect x="653.13" y="298.39" width="4.2" height="4.2"/><rect x="656.89" y="300.91" width="4.2" height="4.2"/><rect x="660.64" y="303.37" width="4.2" height="4.2"/><rect x="664.40" y="305.77" width="4.2" height="4.2"/><rect x="668.15" y="308.11" width="4.2" height="4.2"/><rect x="671.91" y="310.40" width="4.2" height="4.2"/><rect x="675.66" y="312.63" width="4.2" height="4.2"/><rect x="679.42" y="314.80" width="4.2" height="4.2"/><rect x="683.17" y="316.93" width="4.2" height="4.2"/><rect x="686.93" y="319.02" width="4.2" height="4.2"/><rect x="690.68" y="321.06" width="4.2" height="4.2"/><rect x="694.44" y="323.05" width="4.2" height="4.2"/><rect x="698.20" y="325.00" width="4.2" height="4.2"/><rect x="701.95" y="326.92" width="4.2" height="4.2"/><rect x="705.71" y="328.80" width="4.2" height="4.2"/><rect x="709.46" y="330.64" width="4.2" height="4.2"/><rect x="713.22" y="332.44" width="4.2" height="4.2"/><rect x="716.97" y="334.21" width="4.2" height="4.2"/><rect x="720.73" y="335.95" width="4.2" height="4.2"/><rect x="724.48" y="337.66" width="4.2" height="4.2"/><rect x="728.24" y="339.34" width="4.2" height="4.2"/><rect x="731.99" y="340.98" width="4.2" height="4.2"/><rect x="735.75" y="342.60" width="4.2" height="4.2"/><rect x="739.50" y="344.20" width="4.2" height="4.2"/><rect x="743.25" y="345.76" width="4.2" height="4.2"/><rect x="747.01" y="347.30" width="4.2" height="4.2"/><rect x="750.76" y="348.82" width="4.2" height="4.2"/><rect x="754.52" y="350.31" width="4.2" height="4.2"/><rect x="758.27" y="351.78" width="4.2" height="4.2"/><rect x="762.03" y="353.23" width="4.2" height="4.2"/><rect x="765.78" y="354.65" width="4.2" height="4.2"/><rect x="769.54" y="356.06" width="4.2" height="4.2"/><rect x="773.29" y="357.44" width="4.2" height="4.2"/><rect x="777.05" y="358.80" width="4.2" height="4.2"/><rect x="780.80" y="360.15" width="4.2" height="4.2"/><rect x="784.56" y="361.47" width="4.2" height="4.2"/><rect x="788.31" y="362.78" width="4.2" height="4.2"/><rect x="792.07" y="364.07" width="4.2" height="4.2"/><rect x="795.82" y="365.34" width="4.2" height="4.2"/><rect x="799.58" y="366.60" width="4.2" height="4.2"/><rect x="803.34" y="367.84" width="4.2" height="4.2"/><rect x="807.09" y="369.06" width="4.2" height="4.2"/><rect x="810.85" y="370.27" width="4.2" height="4.2"/><rect x="814.60" y="371.46" width="4.2" height="4.2"/></g>
<polyline fill="none" stroke="#0000ff" stroke-width="0.8" stroke-opacity="0.85" points="520.05,-118.16 520.81,-100.88 521.56,-86.28 522.31,-73.62 523.06,-62.46 523.81,-52.48 524.56,-43.44 525.31,-35.20 526.06,-27.61 526.81,-20.59 527.56,-14.05 528.32,-7.94 529.07,-2.19 529.82,3.22 530.57,8.35 531.32,13.21 532.07,17.83 532.82,22.24 533.57,26.45 534.32,30.49 535.07,34.35 535.83,38.07 536.58,41.65 537.33,45.09 538.08,48.42 538.83,51.63 539.58,54.74 540.33,57.75 541.08,60.66 541.83,63.49 542.58,66.24 543.34,68.91 544.09,71.51 544.84,74.03 545.59,76.49 546.34,78.89 547.09,81.23 547.84,83.52 548.59,85.75 549.34,87.93 550.09,90.05 550.85,92.14 551.60,94.18 552.35,96.17 553.10,98.12 553.85,100.04 554.60,101.92 555.35,103.76 556.10,105.56 556.85,107.33 557.61,109.07 558.36,110.78 559.11,112.46 559.86,114.10 560.61,115.72 561.36,117.32 562.11,118.88 562.86,120.42 563.61,121.94 564.36,123.43 565.12,124.90 565.87,126.35 566.62,127.77 567.37,129.18 568.12,130.56 568.87,131.92 569.62,133.27 570.37,134.59 571.12,135.90 571.87,137.19 572.62,138.46 573.38,139.72 574.13,140.96 574.88,142.18 575.63,143.39 576.38,144.58 577.13,145.76 577.88,146.92 578.63,148.07 579.38,149.20 580.13,150.32 580.89,151.43 581.64,152.53 582.39,153.61 583.14,154.68 583.89,155.74 584.64,156.79 585.39,157.82 586.14,158.85 586.89,159.86 587.64,160.86 588.40,161.86 589.15,162.84 589.90,163.81 590.65,164.77 591.40,165.72 592.15,166.67 592.90,167.60 593.65,168.52 594.40,169.44 595.15,170.35 595.91,171.25 596.66,172.14 597.41,173.02 598.16,173.89 598.91,174.76 599.66,175.61 600.41,176.46 601.16,177.31 601.91,178.14 602.66,178.97 603.42,179.79 604.17,180.60 604.92,181.41 605.67,182.21 606.42,183.00 607.17,183.79 607.92,184.57 608.67,185.34 609.42,186.11 610.17,186.87 610.93,187.62 611.68,188.37 612.43,189.12 613.18,189.85 613.93,190.59 614.68,191.31 615.43,192.03 616.18,192.75 616.93,193.46 617.68,194.16 618.44,194.86 619.19,195.56 619.94,196.25 620.69,196.93 621.44,197.61 622.19,198.28 622.94,198.95 623.69,199.62 624.44,200.28 625.19,200.93 625.95,201.59 626.70,202.23 627.45,202.87 628.20,203.51 628.95,204.15 629.70,204.78 630.45,205.40 631.20,206.02 631.95,206.64 632.70,207.25 633.46,207.86 634.21,208.47 634.96,209.07 635.71,209.67 636.46,210.26 637.21,210.85 637.96,211.44 638.71,212.02 639.46,212.60 640.22,213.18 640.97,213.75 641.72,214.32 642.47,214.89 643.22,215.45 643.97,216.01 644.72,216.56 645.47,217.12 646.22,217.67 646.97,218.21 647.73,218.75 648.48,219.29 649.23,219.83 649.98,220.37 650.73,220.90 651.48,221.42 652.23,221.95 652.98,222.47 653.73,222.99 654.48,223.51 655.24,224.02 655.99,224.53 656.74,225.04 657.49,225.54 658.24,226.05 658.99,226.55 659.74,227.05 660.49,227.54 661.24,228.03 661.99,228.52 662.75,229.01 663.50,229.49 664.25,229.98 665.00,230.46 665.75,230.93 666.50,231.41 667.25,231.88 668.00,232.35 668.75,232.82 669.50,233.28 670.25,233.75 671.01,234.21 671.76,234.67 672.51,235.13 673.26,235.58 674.01,236.03 674.76,236.48 675.51,236.93 676.26,237.38 677.01,237.82 677.76,238.26 678.52,238.70 679.27,239.14 680.02,239.57 680.77,240.01 681.52,240.44 682.27,240.87 683.02,241.30 683.77,241.72 684.52,242.15 685.27,242.57 686.03,242.99 686.78,243.41 687.53,243.83 688.28,244.24 689.03,244.65 689.78,245.06 690.53,245.47 691.28,245.88 692.03,246.29 692.78,246.69 693.54,247.09 694.29,247.49 695.04,247.89 695.79,248.29 696.54,248.69 697.29,249.08 698.04,249.47 698.79,249.86 699.54,250.25 700.30,250.64 701.05,251.03 701.80,251.41 702.55,251.79 703.30,252.17 704.05,252.55 704.80,252.93 705.55,253.31 706.30,253.68 707.05,254.06 707.81,254.43 708.56,254.80 709.31,255.17 710.06,255.54 710.81,255.91 711.56,256.27 712.31,256.63 713.06,257.00 713.81,257.36 714.56,257.72 715.32,258.08 716.07,258.43 716.82,258.79 717.57,259.14 718.32,259.50 719.07,259.85 719.82,260.20 720.57,260.55 721.32,260.89 722.07,261.24 722.83,261.59 723.58,261.93 724.33,262.27 725.08,262.61 725.83,262.95 726.58,263.29 727.33,263.63 728.08,263.97 728.83,264.30 729.58,264.64 730.34,264.97 731.09,265.30 731.84,265.63 732.59,265.96 733.34,266.29 734.09,266.62 734.84,266.95 735.59,267.27 736.34,267.59 737.09,267.92 737.85,268.24 738.60,268.56 739.35,268.88 740.10,269.20 740.85,269.52 741.60,269.83 742.35,270.15 743.10,270.46 743.85,270.77 744.60,271.09 745.36,271.40 746.11,271.71 746.86,272.02 747.61,272.33 748.36,272.63 749.11,272.94 749.86,273.24 750.61,273.55 751.36,273.85 752.11,274.15 752.87,274.46 753.62,274.76 754.37,275.05 755.12,275.35 755.87,275.65 756.62,275.95 757.37,276.24 758.12,276.54 758.87,276.83 759.62,277.12 760.38,277.42 761.13,277.71 761.88,278.00 762.63,278.29 763.38,278.58 764.13,278.86 764.88,279.15 765.63,279.44 766.38,279.72 767.13,280.01 767.88,280.29 768.64,280.57 769.39,280.85 770.14,281.13 770.89,281.41 771.64,281.69 772.39,281.97 773.14,282.25 773.89,282.52 774.64,282.80 775.39,283.08 776.15,283.35 776.90,283.62 777.65,283.90 778.40,284.17 779.15,284.44 779.90,284.71 780.65,284.98 781.40,285.25 782.15,285.52 782.90,285.78 783.66,286.05 784.41,286.32 785.16,286.58 785.91,286.85 786.66,287.11 787.41,287.37 788.16,287.63 788.91,287.90 789.66,288.16 790.41,288.42 791.17,288.68 791.92,288.93 792.67,289.19 793.42,289.45 794.17,289.71 794.92,289.96 795.67,290.22 796.42,290.47 797.17,290.72 797.92,290.98 798.68,291.23 799.43,291.48 800.18,291.73 800.93,291.98 801.68,292.23 802.43,292.48 803.18,292.73 803.93,292.98 804.68,293.22 805.44,293.47 806.19,293.72 806.94,293.96 807.69,294.21 808.44,294.45 809.19,294.69 809.94,294.94 810.69,295.18 811.44,295.42 812.19,295.66 812.95,295.90 813.70,296.14 814.45,296.38 815.20,296.62 815.95,296.86 816.70,297.09"/>
<g fill="#0000ff"><rect x="517.95" y="-120.26" width="4.2" height="4.2"/><rect x="521.71" y="-54.58" width="4.2" height="4.2"/><rect x="525.46" y="-16.15" width="4.2" height="4.2"/><rect x="529.22" y="11.11" width="4.2" height="4.2"/><rect x="532.97" y="32.25" width="4.2" height="4.2"/><rect x="536.73" y="49.53" width="4.2" height="4.2"/><rect x="540.48" y="64.14" width="4.2" height="4.2"/><rect x="544.24" y="76.79" width="4.2" height="4.2"/><rect x="547.99" y="87.95" width="4.2" height="4.2"/><rect x="551.75" y="97.94" width="4.2" height="4.2"/><rect x="555.50" y="106.97" width="4.2" height="4.2"/><rect x="559.26" y="115.22" width="4.2" height="4.2"/><rect x="563.01" y="122.80" width="4.2" height="4.2"/><rect x="566.77" y="129.82" width="4.2" height="4.2"/><rect x="570.52" y="136.36" width="4.2" height="4.2"/><rect x="574.28" y="142.48" width="4.2" height="4.2"/><rect x="578.03" y="148.22" width="4.2" height="4.2"/><rect x="581.79" y="153.64" width="4.2" height="4.2"/><rect x="585.54" y="158.76" width="4.2" height="4.2"/><rect x="589.30" y="163.62" width="4.2" height="4.2"/><rect x="593.05" y="168.25" width="4.2" height="4.2"/><rect x="596.81" y="172.66" width="4.2" height="4.2"/><rect x="600.56" y="176.87" width="4.2" height="4.2"/><rect x="604.32" y="180.90" width="4.2" height="4.2"/><rect x="608.07" y="184.77" width="4.2" height="4.2"/><rect x="611.83" y="188.49" width="4.2" height="4.2"/><rect x="615.58" y="192.06" width="4.2" height="4.2"/><rect x="619.34" y="195.51" width="4.2" height="4.2"/><rect x="623.09" y="198.83" width="4.2" height="4.2"/><rect x="626.85" y="202.05" width="4.2" height="4.2"/><rect x="630.60" y="205.15" width="4.2" height="4.2"/><rect x="634.36" y="208.16" width="4.2" height="4.2"/><rect x="638.12" y="211.08" width="4.2" height="4.2"/><rect x="641.87" y="213.91" width="4.2" height="4.2"/><rect x="645.62" y="216.65" width="4.2" height="4.2"/><rect x="649.38" y="219.32" width="4.2" height="4.2"/><rect x="653.13" y="221.92" width="4.2" height="4.2"/><rect x="656.89" y="224.45" width="4.2" height="4.2"/><rect x="660.64" y="226.91" width="4.2" height="4.2"/><rect x="664.40" y="229.31" width="4.2" height="4.2"/><rect x="668.15" y="231.65" width="4.2" height="4.2"/><rect x="671.91" y="233.93" width="4.2" height="4.2"/><rect x="675.66" y="236.16" width="4.2" height="4.2"/><rect x="679.42" y="238.34" width="4.2" height="4.2"/><rect x="683.17" y="240.47" width="4.2" height="4.2"/><rect x="686.93" y="242.55" width="4.2" height="4.2"/><rect x="690.68" y="244.59" width="4.2" height="4.2"/><rect x="694.44" y="246.59" width="4.2" height="4.2"/><rect x="698.20" y="248.54" width="4.2" height="4.2"/><rect x="701.95" y="250.45" width="4.2" height="4.2"/><rect x="705.71" y="252.33" width="4.2" height="4.2"/><rect x="709.46" y="254.17" width="4.2" height="4.2"/><rect x="713.22" y="255.98" width="4.2" height="4.2"/><rect x="716.97" y="257.75" width="4.2" height="4.2"/><rect x="720.73" y="259.49" width="4.2" height="4.2"/><rect x="724.48" y="261.19" width="4.2" height="4.2"/><rect x="728.24" y="262.87" width="4.2" height="4.2"/><rect x="731.99" y="264.52" width="4.2" height="4.2"/><rect x="735.75" y="266.14" width="4.2" height="4.2"/><rect x="739.50" y="267.73" width="4.2" height="4.2"/><rect x="743.25" y="269.30" width="4.2" height="4.2"/><rect x="747.01" y="270.84" width="4.2" height="4.2"/><rect x="750.76" y="272.36" width="4.2" height="4.2"/><rect x="754.52" y="273.85" width="4.2" height="4.2"/><rect x="758.27" y="275.32" width="4.2" height="4.2"/><rect x="762.03" y="276.76" width="4.2" height="4.2"/><rect x="765.78" y="278.19" width="4.2" height="4.2"/><rect x="769.54" y="279.59" width="4.2" height="4.2"/><rect x="773.29" y="280.98" width="4.2" height="4.2"/><rect x="777.05" y="282.34" width="4.2" height="4.2"/><rect x="780.80" y="283.68" width="4.2" height="4.2"/><rect x="784.56" y="285.01" width="4.2" height="4.2"/><rect x="788.31" y="286.32" width="4.2" height="4.2"/><rect x="792.07" y="287.61" width="4.2" height="4.2"/><rect x="795.82" y="288.88" width="4.2" height="4.2"/><rect x="799.58" y="290.13" width="4.2" height="4.2"/><rect x="803.34" y="291.37" width="4.2" height="4.2"/><rect x="807.09" y="292.59" width="4.2" height="4.2"/><rect x="810.85" y="293.80" width="4.2" height="4.2"/><rect x="814.60" y="294.99" width="4.2" height="4.2"/></g>
<g fill="none" stroke="#ff00ff" stroke-width="0.75"><path d="M517.70,-139.80 L522.40,-139.80 L520.05,-144.15 Z"/><path d="M521.46,-74.12 L526.16,-74.12 L523.81,-78.46 Z"/><path d="M525.21,-35.69 L529.91,-35.69 L527.56,-40.04 Z"/><path d="M528.97,-8.43 L533.67,-8.43 L531.32,-12.78 Z"/><path d="M532.72,12.71 L537.42,12.71 L535.07,8.37 Z"/><path d="M536.48,29.99 L541.18,29.99 L538.83,25.64 Z"/><path d="M540.23,44.60 L544.93,44.60 L542.58,40.25 Z"/><path d="M543.99,57.25 L548.69,57.25 L546.34,52.91 Z"/><path d="M547.74,68.41 L552.44,68.41 L550.09,64.07 Z"/><path d="M551.50,78.40 L556.20,78.40 L553.85,74.05 Z"/><path d="M555.25,87.43 L559.96,87.43 L557.61,83.08 Z"/><path d="M559.01,95.68 L563.71,95.68 L561.36,91.33 Z"/><path d="M562.76,103.26 L567.47,103.26 L565.12,98.91 Z"/><path d="M566.52,110.28 L571.22,110.28 L568.87,105.94 Z"/><path d="M570.27,116.82 L574.98,116.82 L572.62,112.47 Z"/><path d="M574.03,122.94 L578.73,122.94 L576.38,118.59 Z"/><path d="M577.78,128.68 L582.49,128.68 L580.13,124.33 Z"/><path d="M581.54,134.10 L586.24,134.10 L583.89,129.75 Z"/><path d="M585.29,139.22 L590.00,139.22 L587.64,134.87 Z"/><path d="M589.05,144.08 L593.75,144.08 L591.40,139.74 Z"/><path d="M592.80,148.71 L597.50,148.71 L595.15,144.36 Z"/><path d="M596.56,153.11 L601.26,153.11 L598.91,148.77 Z"/><path d="M600.31,157.33 L605.01,157.33 L602.66,152.98 Z"/><path d="M604.07,161.36 L608.77,161.36 L606.42,157.01 Z"/><path d="M607.82,165.23 L612.52,165.23 L610.17,160.88 Z"/><path d="M611.58,168.95 L616.28,168.95 L613.93,164.60 Z"/><path d="M615.33,172.52 L620.03,172.52 L617.68,168.17 Z"/><path d="M619.09,175.97 L623.79,175.97 L621.44,171.62 Z"/><path d="M622.84,179.29 L627.54,179.29 L625.19,174.95 Z"/><path d="M626.60,182.51 L631.30,182.51 L628.95,178.16 Z"/><path d="M630.35,185.61 L635.05,185.61 L632.70,181.27 Z"/><path d="M634.11,188.62 L638.81,188.62 L636.46,184.27 Z"/><path d="M637.87,191.54 L642.57,191.54 L640.22,187.19 Z"/><path d="M641.62,194.37 L646.32,194.37 L643.97,190.02 Z"/><path d="M645.38,197.11 L650.08,197.11 L647.73,192.77 Z"/><path d="M649.13,199.78 L653.83,199.78 L651.48,195.44 Z"/><path d="M652.88,202.38 L657.59,202.38 L655.24,198.03 Z"/><path d="M656.64,204.91 L661.34,204.91 L658.99,200.56 Z"/><path d="M660.39,207.37 L665.10,207.37 L662.75,203.02 Z"/><path d="M664.15,209.77 L668.85,209.77 L666.50,205.42 Z"/><path d="M667.90,212.11 L672.61,212.11 L670.25,207.76 Z"/><path d="M671.66,214.39 L676.36,214.39 L674.01,210.04 Z"/><path d="M675.41,216.62 L680.12,216.62 L677.76,212.27 Z"/><path d="M679.17,218.80 L683.87,218.80 L681.52,214.45 Z"/><path d="M682.92,220.93 L687.62,220.93 L685.27,216.58 Z"/><path d="M686.68,223.01 L691.38,223.01 L689.03,218.66 Z"/><path d="M690.43,225.05 L695.13,225.05 L692.78,220.70 Z"/><path d="M694.19,227.05 L698.89,227.05 L696.54,222.70 Z"/><path d="M697.95,229.00 L702.65,229.00 L700.30,224.65 Z"/><path d="M701.70,230.91 L706.40,230.91 L704.05,226.57 Z"/><path d="M705.46,232.79 L710.16,232.79 L707.81,228.44 Z"/><path d="M709.21,234.63 L713.91,234.63 L711.56,230.28 Z"/><path d="M712.97,236.44 L717.67,236.44 L715.32,232.09 Z"/><path d="M716.72,238.21 L721.42,238.21 L719.07,233.86 Z"/><path d="M720.48,239.95 L725.18,239.95 L722.83,235.60 Z"/><path d="M724.23,241.65 L728.93,241.65 L726.58,237.31 Z"/><path d="M727.99,243.33 L732.69,243.33 L730.34,238.98 Z"/><path d="M731.74,244.98 L736.44,244.98 L734.09,240.63 Z"/><path d="M735.50,246.60 L740.20,246.60 L737.85,242.25 Z"/><path d="M739.25,248.19 L743.95,248.19 L741.60,243.84 Z"/><path d="M743.00,249.76 L747.71,249.76 L745.36,245.41 Z"/><path d="M746.76,251.30 L751.46,251.30 L749.11,246.95 Z"/><path d="M750.51,252.81 L755.22,252.81 L752.87,248.47 Z"/><path d="M754.27,254.31 L758.97,254.31 L756.62,249.96 Z"/><path d="M758.02,255.78 L762.73,255.78 L760.38,251.43 Z"/><path d="M761.78,257.22 L766.48,257.22 L764.13,252.88 Z"/><path d="M765.53,258.65 L770.24,258.65 L767.88,254.30 Z"/><path d="M769.29,260.05 L773.99,260.05 L771.64,255.70 Z"/><path d="M773.04,261.44 L777.75,261.44 L775.39,257.09 Z"/><path d="M776.80,262.80 L781.50,262.80 L779.15,258.45 Z"/><path d="M780.55,264.14 L785.25,264.14 L782.90,259.80 Z"/><path d="M784.31,265.47 L789.01,265.47 L786.66,261.12 Z"/><path d="M788.06,266.78 L792.76,266.78 L790.41,262.43 Z"/><path d="M791.82,268.06 L796.52,268.06 L794.17,263.72 Z"/><path d="M795.57,269.34 L800.27,269.34 L797.92,264.99 Z"/><path d="M799.33,270.59 L804.03,270.59 L801.68,266.24 Z"/><path d="M803.09,271.83 L807.79,271.83 L805.44,267.48 Z"/><path d="M806.84,273.05 L811.54,273.05 L809.19,268.71 Z"/><path d="M810.60,274.26 L815.30,274.26 L812.95,269.91 Z"/><path d="M814.35,275.45 L819.05,275.45 L816.70,271.11 Z"/></g>
<polyline fill="none" stroke="#ff00ff" stroke-width="0.8" stroke-opacity="0.85" points="520.05,-151.24 520.81,-133.96 521.56,-119.35 522.31,-106.70 523.06,-95.54 523.81,-85.55 524.56,-76.52 525.31,-68.28 526.06,-60.69 526.81,-53.67 527.56,-47.13 528.32,-41.02 529.07,-35.27 529.82,-29.85 530.57,-24.73 531.32,-19.87 532.07,-15.25 532.82,-10.84 533.57,-6.62 534.32,-2.59 535.07,1.28 535.83,4.99 536.58,8.57 537.33,12.02 538.08,15.34 538.83,18.55 539.58,21.66 540.33,24.67 541.08,27.59 541.83,30.41 542.58,33.16 543.34,35.83 544.09,38.43 544.84,40.95 545.59,43.42 546.34,45.82 547.09,48.16 547.84,50.44 548.59,52.67 549.34,54.85 550.09,56.98 550.85,59.06 551.60,61.10 552.35,63.09 553.10,65.05 553.85,66.96 554.60,68.84 555.35,70.68 556.10,72.48 556.85,74.25 557.61,75.99 558.36,77.70 559.11,79.38 559.86,81.03 560.61,82.65 561.36,84.24 562.11,85.80 562.86,87.35 563.61,88.86 564.36,90.35 565.12,91.82 565.87,93.27 566.62,94.70 567.37,96.10 568.12,97.48 568.87,98.85 569.62,100.19 570.37,101.52 571.12,102.82 571.87,104.11 572.62,105.38 573.38,106.64 574.13,107.88 574.88,109.10 575.63,110.31 576.38,111.50 577.13,112.68 577.88,113.84 578.63,114.99 579.38,116.12 580.13,117.25 580.89,118.35 581.64,119.45 582.39,120.53 583.14,121.60 583.89,122.66 584.64,123.71 585.39,124.74 586.14,125.77 586.89,126.78 587.64,127.79 588.40,128.78 589.15,129.76 589.90,130.73 590.65,131.69 591.40,132.65 592.15,133.59 592.90,134.52 593.65,135.45 594.40,136.36 595.15,137.27 595.91,138.17 596.66,139.06 597.41,139.94 598.16,140.81 598.91,141.68 599.66,142.54 600.41,143.39 601.16,144.23 601.91,145.06 602.66,145.89 603.42,146.71 604.17,147.52 604.92,148.33 605.67,149.13 606.42,149.92 607.17,150.71 607.92,151.49 608.67,152.26 609.42,153.03 610.17,153.79 610.93,154.55 611.68,155.30 612.43,156.04 613.18,156.78 613.93,157.51 614.68,158.23 615.43,158.96 616.18,159.67 616.93,160.38 617.68,161.08 618.44,161.78 619.19,162.48 619.94,163.17 620.69,163.85 621.44,164.53 622.19,165.21 622.94,165.88 623.69,166.54 624.44,167.20 625.19,167.86 625.95,168.51 626.70,169.15 627.45,169.80 628.20,170.44 628.95,171.07 629.70,171.70 630.45,172.32 631.20,172.95 631.95,173.56 632.70,174.18 633.46,174.79 634.21,175.39 634.96,175.99 635.71,176.59 636.46,177.18 637.21,177.78 637.96,178.36 638.71,178.95 639.46,179.52 640.22,180.10 640.97,180.67 641.72,181.24 642.47,181.81 643.22,182.37 643.97,182.93 644.72,183.49 645.47,184.04 646.22,184.59 646.97,185.13 647.73,185.68 648.48,186.22 649.23,186.75 649.98,187.29 650.73,187.82 651.48,188.35 652.23,188.87 652.98,189.39 653.73,189.91 654.48,190.43 655.24,190.94 655.99,191.45 656.74,191.96 657.49,192.47 658.24,192.97 658.99,193.47 659.74,193.97 660.49,194.46 661.24,194.95 661.99,195.44 662.75,195.93 663.50,196.42 664.25,196.90 665.00,197.38 665.75,197.86 666.50,198.33 667.25,198.80 668.00,199.27 668.75,199.74 669.50,200.21 670.25,200.67 671.01,201.13 671.76,201.59 672.51,202.05 673.26,202.50 674.01,202.95 674.76,203.40 675.51,203.85 676.26,204.30 677.01,204.74 677.76,205.18 678.52,205.62 679.27,206.06 680.02,206.50 680.77,206.93 681.52,207.36 682.27,207.79 683.02,208.22 683.77,208.65 684.52,209.07 685.27,209.49 686.03,209.91 686.78,210.33 687.53,210.75 688.28,211.16 689.03,211.58 689.78,211.99 690.53,212.40 691.28,212.80 692.03,213.21 692.78,213.61 693.54,214.02 694.29,214.42 695.04,214.82 695.79,215.21 696.54,215.61 697.29,216.00 698.04,216.39 698.79,216.79 699.54,217.17 700.30,217.56 701.05,217.95 701.80,218.33 702.55,218.72 703.30,219.10 704.05,219.48 704.80,219.85 705.55,220.23 706.30,220.61 707.05,220.98 707.81,221.35 708.56,221.72 709.31,222.09 710.06,222.46 710.81,222.83 711.56,223.19 712.31,223.56 713.06,223.92 713.81,224.28 714.56,224.64 715.32,225.00 716.07,225.36 716.82,225.71 717.57,226.07 718.32,226.42 719.07,226.77 719.82,227.12 720.57,227.47 721.32,227.82 722.07,228.16 722.83,228.51 723.58,228.85 724.33,229.20 725.08,229.54 725.83,229.88 726.58,230.22 727.33,230.55 728.08,230.89 728.83,231.23 729.58,231.56 730.34,231.89 731.09,232.23 731.84,232.56 732.59,232.89 733.34,233.21 734.09,233.54 734.84,233.87 735.59,234.19 736.34,234.52 737.09,234.84 737.85,235.16 738.60,235.48 739.35,235.80 740.10,236.12 740.85,236.44 741.60,236.75 742.35,237.07 743.10,237.38 743.85,237.70 744.60,238.01 745.36,238.32 746.11,238.63 746.86,238.94 747.61,239.25 748.36,239.55 749.11,239.86 749.86,240.17 750.61,240.47 751.36,240.77 752.11,241.08 752.87,241.38 753.62,241.68 754.37,241.98 755.12,242.28 755.87,242.57 756.62,242.87 757.37,243.17 758.12,243.46 758.87,243.75 759.62,244.05 760.38,244.34 761.13,244.63 761.88,244.92 762.63,245.21 763.38,245.50 764.13,245.79 764.88,246.07 765.63,246.36 766.38,246.64 767.13,246.93 767.88,247.21 768.64,247.49 769.39,247.77 770.14,248.06 770.89,248.34 771.64,248.61 772.39,248.89 773.14,249.17 773.89,249.45 774.64,249.72 775.39,250.00 776.15,250.27 776.90,250.55 777.65,250.82 778.40,251.09 779.15,251.36 779.90,251.63 780.65,251.90 781.40,252.17 782.15,252.44 782.90,252.71 783.66,252.97 784.41,253.24 785.16,253.50 785.91,253.77 786.66,254.03 787.41,254.29 788.16,254.56 788.91,254.82 789.66,255.08 790.41,255.34 791.17,255.60 791.92,255.86 792.67,256.11 793.42,256.37 794.17,256.63 794.92,256.88 795.67,257.14 796.42,257.39 797.17,257.65 797.92,257.90 798.68,258.15 799.43,258.40 800.18,258.65 800.93,258.91 801.68,259.15 802.43,259.40 803.18,259.65 803.93,259.90 804.68,260.15 805.44,260.39 806.19,260.64 806.94,260.88 807.69,261.13 808.44,261.37 809.19,261.62 809.94,261.86 810.69,262.10 811.44,262.34 812.19,262.58 812.95,262.82 813.70,263.06 814.45,263.30 815.20,263.54 815.95,263.78 816.70,264.02"/>
<g fill="#ff00ff"><rect x="517.95" y="-153.34" width="4.2" height="4.2"/><rect x="521.71" y="-87.65" width="4.2" height="4.2"/><rect x="525.46" y="-49.23" width="4.2" height="4.2"/><rect x="529.22" y="-21.97" width="4.2" height="4.2"/><rect x="532.97" y="-0.82" width="4.2" height="4.2"/><rect x="536.73" y="16.45" width="4.2" height="4.2"/><rect x="540.48" y="31.06" width="4.2" height="4.2"/><rect x="544.24" y="43.72" width="4.2" height="4.2"/><rect x="547.99" y="54.88" width="4.2" height="4.2"/><rect x="551.75" y="64.86" width="4.2" height="4.2"/><rect x="555.50" y="73.89" width="4.2" height="4.2"/><rect x="559.26" y="82.14" width="4.2" height="4.2"/><rect x="563.01" y="89.72" width="4.2" height="4.2"/><rect x="566.77" y="96.75" width="4.2" height="4.2"/><rect x="570.52" y="103.28" width="4.2" height="4.2"/><rect x="574.28" y="109.40" width="4.2" height="4.2"/><rect x="578.03" y="115.15" width="4.2" height="4.2"/><rect x="581.79" y="120.56" width="4.2" height="4.2"/><rect x="585.54" y="125.69" width="4.2" height="4.2"/><rect x="589.30" y="130.55" width="4.2" height="4.2"/><rect x="593.05" y="135.17" width="4.2" height="4.2"/><rect x="596.81" y="139.58" width="4.2" height="4.2"/><rect x="600.56" y="143.79" width="4.2" height="4.2"/><rect x="604.32" y="147.82" width="4.2" height="4.2"/><rect x="608.07" y="151.69" width="4.2" height="4.2"/><rect x="611.83" y="155.41" width="4.2" height="4.2"/><rect x="615.58" y="158.98" width="4.2" height="4.2"/><rect x="619.34" y="162.43" width="4.2" height="4.2"/><rect x="623.09" y="165.76" width="4.2" height="4.2"/><rect x="626.85" y="168.97" width="4.2" height="4.2"/><rect x="630.60" y="172.08" width="4.2" height="4.2"/><rect x="634.36" y="175.08" width="4.2" height="4.2"/><rect x="638.12" y="178.00" width="4.2" height="4.2"/><rect x="641.87" y="180.83" width="4.2" height="4.2"/><rect x="645.62" y="183.58" width="4.2" height="4.2"/><rect x="649.38" y="186.25" width="4.2" height="4.2"/><rect x="653.13" y="188.84" width="4.2" height="4.2"/><rect x="656.89" y="191.37" width="4.2" height="4.2"/><rect x="660.64" y="193.83" width="4.2" height="4.2"/><rect x="664.40" y="196.23" width="4.2" height="4.2"/><rect x="668.15" y="198.57" width="4.2" height="4.2"/><rect x="671.91" y="200.85" width="4.2" height="4.2"/><rect x="675.66" y="203.08" width="4.2" height="4.2"/><rect x="679.42" y="205.26" width="4.2" height="4.2"/><rect x="683.17" y="207.39" width="4.2" height="4.2"/><rect x="686.93" y="209.48" width="4.2" height="4.2"/><rect x="690.68" y="211.51" width="4.2" height="4.2"/><rect x="694.44" y="213.51" width="4.2" height="4.2"/><rect x="698.20" y="215.46" width="4.2" height="4.2"/><rect x="701.95" y="217.38" width="4.2" height="4.2"/><rect x="705.71" y="219.25" width="4.2" height="4.2"/><rect x="709.46" y="221.09" width="4.2" height="4.2"/><rect x="713.22" y="222.90" width="4.2" height="4.2"/><rect x="716.97" y="224.67" width="4.2" height="4.2"/><rect x="720.73" y="226.41" width="4.2" height="4.2"/><rect x="724.48" y="228.12" width="4.2" height="4.2"/><rect x="728.24" y="229.79" width="4.2" height="4.2"/><rect x="731.99" y="231.44" width="4.2" height="4.2"/><rect x="735.75" y="233.06" width="4.2" height="4.2"/><rect x="739.50" y="234.65" width="4.2" height="4.2"/><rect x="743.25" y="236.22" width="4.2" height="4.2"/><rect x="747.01" y="237.76" width="4.2" height="4.2"/><rect x="750.76" y="239.28" width="4.2" height="4.2"/><rect x="754.52" y="240.77" width="4.2" height="4.2"/><rect x="758.27" y="242.24" width="4.2" height="4.2"/><rect x="762.03" y="243.69" width="4.2" height="4.2"/><rect x="765.78" y="245.11" width="4.2" height="4.2"/><rect x="769.54" y="246.51" width="4.2" height="4.2"/><rect x="773.29" y="247.90" width="4.2" height="4.2"/><rect x="777.05" y="249.26" width="4.2" height="4.2"/><rect x="780.80" y="250.61" width="4.2" height="4.2"/><rect x="784.56" y="251.93" width="4.2" height="4.2"/><rect x="788.31" y="253.24" width="4.2" height="4.2"/><rect x="792.07" y="254.53" width="4.2" height="4.2"/><rect x="795.82" y="255.80" width="4.2" height="4.2"/><rect x="799.58" y="257.05" width="4.2" height="4.2"/><rect x="803.34" y="258.29" width="4.2" height="4.2"/><rect x="807.09" y="259.52" width="4.2" height="4.2"/><rect x="810.85" y="260.72" width="4.2" height="4.2"/><rect x="814.60" y="261.92" width="4.2" height="4.2"/></g>
</g>
<rect x="516.3" y="79.1" width="300.4000000000001" height="327.29999999999995" fill="none" stroke="#858585" stroke-width="1.4"/>
<text x="469.50" y="83.20" font-size="16" fill="#464646" font-weight="normal" textLength="17.20" lengthAdjust="spacingAndGlyphs">10</text>
<text x="487.90" y="74.60" font-size="10.8" fill="#464646" font-weight="normal" textLength="7.60" lengthAdjust="spacingAndGlyphs">−</text>
<text x="495.90" y="74.60" font-size="10.8" fill="#464646" font-weight="normal" textLength="12.40" lengthAdjust="spacingAndGlyphs">17</text>
<text x="469.50" y="192.30" font-size="16" fill="#464646" font-weight="normal" textLength="17.20" lengthAdjust="spacingAndGlyphs">10</text>
<text x="487.90" y="183.70" font-size="10.8" fill="#464646" font-weight="normal" textLength="7.60" lengthAdjust="spacingAndGlyphs">−</text>
<text x="495.90" y="183.70" font-size="10.8" fill="#464646" font-weight="normal" textLength="12.40" lengthAdjust="spacingAndGlyphs">18</text>
<text x="469.50" y="301.40" font-size="16" fill="#464646" font-weight="normal" textLength="17.20" lengthAdjust="spacingAndGlyphs">10</text>
<text x="487.90" y="292.80" font-size="10.8" fill="#464646" font-weight="normal" textLength="7.60" lengthAdjust="spacingAndGlyphs">−</text>
<text x="495.90" y="292.80" font-size="10.8" fill="#464646" font-weight="normal" textLength="12.40" lengthAdjust="spacingAndGlyphs">19</text>
<text x="469.50" y="410.50" font-size="16" fill="#464646" font-weight="normal" textLength="17.20" lengthAdjust="spacingAndGlyphs">10</text>
<text x="487.90" y="401.90" font-size="10.8" fill="#464646" font-weight="normal" textLength="7.60" lengthAdjust="spacingAndGlyphs">−</text>
<text x="495.90" y="401.90" font-size="10.8" fill="#464646" font-weight="normal" textLength="12.40" lengthAdjust="spacingAndGlyphs">20</text>
<text x="544.70" y="427.60" font-size="16" fill="#464646" font-weight="normal" textLength="18.30" lengthAdjust="spacingAndGlyphs">50</text>
<text x="578.15" y="427.60" font-size="16" fill="#464646" font-weight="normal" textLength="26.50" lengthAdjust="spacingAndGlyphs">100</text>
<text x="615.70" y="427.60" font-size="16" fill="#464646" font-weight="normal" textLength="26.50" lengthAdjust="spacingAndGlyphs">150</text>
<text x="653.25" y="427.60" font-size="16" fill="#464646" font-weight="normal" textLength="26.50" lengthAdjust="spacingAndGlyphs">200</text>
<text x="690.80" y="427.60" font-size="16" fill="#464646" font-weight="normal" textLength="26.50" lengthAdjust="spacingAndGlyphs">250</text>
<text x="728.35" y="427.60" font-size="16" fill="#464646" font-weight="normal" textLength="26.50" lengthAdjust="spacingAndGlyphs">300</text>
<text x="765.90" y="427.60" font-size="16" fill="#464646" font-weight="normal" textLength="26.50" lengthAdjust="spacingAndGlyphs">350</text>
<path d="M729.60,233.22 L724.6,235.5 L726.45,230.32" stroke="#ff20ff" stroke-width="1" fill="none"/>
<text x="104.20" y="69.90" font-size="16.3" fill="#464646" font-weight="normal" textLength="119.10" lengthAdjust="spacingAndGlyphs">protoplanetary</text>
<text x="232.10" y="69.90" font-size="16.3" fill="#464646" font-weight="normal" textLength="31.00" lengthAdjust="spacingAndGlyphs">disk</text>
<text x="272.30" y="69.90" font-size="16.3" fill="#464646" font-weight="normal" textLength="62.30" lengthAdjust="spacingAndGlyphs">(K−type</text>
<text x="343.40" y="69.90" font-size="16.3" fill="#464646" font-weight="normal" textLength="37.90" lengthAdjust="spacingAndGlyphs">star)</text>
<text x="527.50" y="69.90" font-size="16.3" fill="#464646" font-weight="normal" textLength="119.10" lengthAdjust="spacingAndGlyphs">protoplanetary</text>
<text x="655.60" y="69.90" font-size="16.3" fill="#464646" font-weight="normal" textLength="31.50" lengthAdjust="spacingAndGlyphs">disk</text>
<text x="695.70" y="69.90" font-size="16.3" fill="#464646" font-weight="normal" textLength="62.90" lengthAdjust="spacingAndGlyphs">(G−type</text>
<text x="767.20" y="69.90" font-size="16.3" fill="#464646" font-weight="normal" textLength="37.70" lengthAdjust="spacingAndGlyphs">star)</text>
<text x="148.00" y="454.30" font-size="16.3" fill="#464646" font-weight="normal" textLength="66.20" lengthAdjust="spacingAndGlyphs">distance</text>
<text x="222.90" y="454.30" font-size="16.3" fill="#464646" font-weight="normal" textLength="37.20" lengthAdjust="spacingAndGlyphs">from</text>
<text x="269.40" y="454.30" font-size="16.3" fill="#464646" font-weight="normal" textLength="29.00" lengthAdjust="spacingAndGlyphs">Sun</text>
<text x="307.20" y="454.30" font-size="16.3" fill="#464646" font-weight="normal" textLength="30.00" lengthAdjust="spacingAndGlyphs">(pc)</text>
<text x="571.60" y="454.30" font-size="16.3" fill="#464646" font-weight="normal" textLength="66.20" lengthAdjust="spacingAndGlyphs">distance</text>
<text x="646.50" y="454.30" font-size="16.3" fill="#464646" font-weight="normal" textLength="37.20" lengthAdjust="spacingAndGlyphs">from</text>
<text x="693.00" y="454.30" font-size="16.3" fill="#464646" font-weight="normal" textLength="29.00" lengthAdjust="spacingAndGlyphs">Sun</text>
<text x="730.80" y="454.30" font-size="16.3" fill="#464646" font-weight="normal" textLength="30.00" lengthAdjust="spacingAndGlyphs">(pc)</text>
<g transform="translate(28.2,354.8) rotate(-90)">
<text x="-0.40" y="0.00" font-size="16.3" fill="#464646" font-weight="normal" textLength="76.60" lengthAdjust="spacingAndGlyphs">Predicted</text>
<text x="83.30" y="0.00" font-size="16.3" fill="#464646" font-weight="normal" textLength="30.40" lengthAdjust="spacingAndGlyphs">line</text>
<text x="120.90" y="0.00" font-size="16.3" fill="#464646" font-weight="normal" textLength="29.90" lengthAdjust="spacingAndGlyphs">flux</text>
<text x="155.20" y="0.00" font-size="16.3" fill="#464646" font-weight="normal" textLength="6.80" lengthAdjust="spacingAndGlyphs">(</text>
<text x="162.20" y="0.00" font-size="16.3" fill="#464646" font-weight="normal" textLength="13.90" lengthAdjust="spacingAndGlyphs">W</text>
<text x="184.70" y="0.00" font-size="16.3" fill="#464646" font-weight="normal" textLength="13.10" lengthAdjust="spacingAndGlyphs">m</text>
<text x="214.70" y="0.00" font-size="16.3" fill="#464646" font-weight="normal" textLength="6.70" lengthAdjust="spacingAndGlyphs">)</text>
<text x="200.00" y="-8.60" font-size="10.5" fill="#464646" font-weight="normal" textLength="15.50" lengthAdjust="spacingAndGlyphs">−2</text>
</g>
<g transform="translate(452.3,354.8) rotate(-90)">
<text x="-0.40" y="0.00" font-size="16.3" fill="#464646" font-weight="normal" textLength="76.60" lengthAdjust="spacingAndGlyphs">Predicted</text>
<text x="83.30" y="0.00" font-size="16.3" fill="#464646" font-weight="normal" textLength="30.40" lengthAdjust="spacingAndGlyphs">line</text>
<text x="120.90" y="0.00" font-size="16.3" fill="#464646" font-weight="normal" textLength="29.90" lengthAdjust="spacingAndGlyphs">flux</text>
<text x="155.20" y="0.00" font-size="16.3" fill="#464646" font-weight="normal" textLength="6.80" lengthAdjust="spacingAndGlyphs">(</text>
<text x="162.20" y="0.00" font-size="16.3" fill="#464646" font-weight="normal" textLength="13.90" lengthAdjust="spacingAndGlyphs">W</text>
<text x="184.70" y="0.00" font-size="16.3" fill="#464646" font-weight="normal" textLength="13.10" lengthAdjust="spacingAndGlyphs">m</text>
<text x="214.70" y="0.00" font-size="16.3" fill="#464646" font-weight="normal" textLength="6.70" lengthAdjust="spacingAndGlyphs">)</text>
<text x="200.00" y="-8.60" font-size="10.5" fill="#464646" font-weight="normal" textLength="15.50" lengthAdjust="spacingAndGlyphs">−2</text>
</g>
<text x="276.90" y="105.60" font-size="16.3" fill="#464646" font-weight="normal" textLength="10.30" lengthAdjust="spacingAndGlyphs">T</text>
<text x="309.80" y="105.60" font-size="16.3" fill="#464646" font-weight="normal" textLength="9.50" lengthAdjust="spacingAndGlyphs">=</text>
<text x="328.70" y="105.60" font-size="16.3" fill="#464646" font-weight="normal" textLength="36.30" lengthAdjust="spacingAndGlyphs">4500</text>
<text x="373.60" y="105.60" font-size="16.3" fill="#464646" font-weight="normal" textLength="10.00" lengthAdjust="spacingAndGlyphs">K</text>
<text class="ss" x="286.20" y="109.00" font-size="11" fill="#383838" font-weight="normal" textLength="22.50" lengthAdjust="spacingAndGlyphs">star</text>
<text x="701.10" y="105.60" font-size="16.3" fill="#464646" font-weight="normal" textLength="10.30" lengthAdjust="spacingAndGlyphs">T</text>
<text x="734.00" y="105.60" font-size="16.3" fill="#464646" font-weight="normal" textLength="9.50" lengthAdjust="spacingAndGlyphs">=</text>
<text x="752.90" y="105.60" font-size="16.3" fill="#464646" font-weight="normal" textLength="36.30" lengthAdjust="spacingAndGlyphs">6000</text>
<text x="797.80" y="105.60" font-size="16.3" fill="#464646" font-weight="normal" textLength="10.00" lengthAdjust="spacingAndGlyphs">K</text>
<text class="ss" x="710.40" y="109.00" font-size="11" fill="#383838" font-weight="normal" textLength="22.50" lengthAdjust="spacingAndGlyphs">star</text>
<text x="267.30" y="247.20" font-size="9.8" fill="#2a2aff" font-weight="bold" textLength="32.10" lengthAdjust="spacingAndGlyphs">SAFARI</text>
<text x="304.20" y="247.20" font-size="9.8" fill="#2a2aff" font-weight="bold" textLength="23.30" lengthAdjust="spacingAndGlyphs">band</text>
<text x="332.70" y="247.20" font-size="9.8" fill="#2a2aff" font-weight="bold" textLength="5.10" lengthAdjust="spacingAndGlyphs">1</text>
<text x="343.60" y="247.20" font-size="9.8" fill="#2a2aff" font-weight="bold" textLength="5.50" lengthAdjust="spacingAndGlyphs">−</text>
<text x="353.90" y="247.20" font-size="9.8" fill="#2a2aff" font-weight="bold" textLength="11.10" lengthAdjust="spacingAndGlyphs">5σ</text>
<text x="370.70" y="247.20" font-size="9.8" fill="#2a2aff" font-weight="bold" textLength="10.60" lengthAdjust="spacingAndGlyphs">1h</text>
<text x="267.30" y="259.60" font-size="9.8" fill="#ff2aff" font-weight="bold" textLength="32.10" lengthAdjust="spacingAndGlyphs">SAFARI</text>
<text x="304.20" y="259.60" font-size="9.8" fill="#ff2aff" font-weight="bold" textLength="23.30" lengthAdjust="spacingAndGlyphs">band</text>
<text x="332.70" y="259.60" font-size="9.8" fill="#ff2aff" font-weight="bold" textLength="5.10" lengthAdjust="spacingAndGlyphs">2</text>
<text x="343.60" y="259.60" font-size="9.8" fill="#ff2aff" font-weight="bold" textLength="5.50" lengthAdjust="spacingAndGlyphs">−</text>
<text x="353.90" y="259.60" font-size="9.8" fill="#ff2aff" font-weight="bold" textLength="11.10" lengthAdjust="spacingAndGlyphs">5σ</text>
<text x="370.70" y="259.60" font-size="9.8" fill="#ff2aff" font-weight="bold" textLength="10.60" lengthAdjust="spacingAndGlyphs">1h</text>
<text x="267.30" y="272.00" font-size="9.8" fill="#ff2a2a" font-weight="bold" textLength="32.10" lengthAdjust="spacingAndGlyphs">SAFARI</text>
<text x="304.20" y="272.00" font-size="9.8" fill="#ff2a2a" font-weight="bold" textLength="23.30" lengthAdjust="spacingAndGlyphs">band</text>
<text x="332.70" y="272.00" font-size="9.8" fill="#ff2a2a" font-weight="bold" textLength="5.10" lengthAdjust="spacingAndGlyphs">3</text>
<text x="343.60" y="272.00" font-size="9.8" fill="#ff2a2a" font-weight="bold" textLength="5.50" lengthAdjust="spacingAndGlyphs">−</text>
<text x="353.90" y="272.00" font-size="9.8" fill="#ff2a2a" font-weight="bold" textLength="11.10" lengthAdjust="spacingAndGlyphs">5σ</text>
<text x="370.70" y="272.00" font-size="9.8" fill="#ff2a2a" font-weight="bold" textLength="10.60" lengthAdjust="spacingAndGlyphs">1h</text>
<text x="165.50" y="138.00" font-size="16.3" fill="#ff2cff" font-weight="normal" textLength="27.60" lengthAdjust="spacingAndGlyphs">[OI]</text>
<text x="194.00" y="138.00" font-size="16.3" fill="#ff2cff" font-weight="normal" textLength="18.30" lengthAdjust="spacingAndGlyphs">63</text>
<text x="212.40" y="138.00" font-size="16.3" fill="#ff2cff" font-weight="normal" font-style="italic" textLength="10.50" lengthAdjust="spacingAndGlyphs">μ</text>
<text x="222.90" y="138.00" font-size="16.3" fill="#ff2cff" font-weight="normal" textLength="14.90" lengthAdjust="spacingAndGlyphs">m</text>
<path d="M165.9,134.4 L131.23397401379626,145.89096683108147" stroke="#ff2cff" stroke-width="0.9" fill="none"/>
<path d="M139.22,146.40 L131.23397401379626,145.89096683108147 L137.33,140.71" stroke="#ff00ff" stroke-width="1.35" stroke-linejoin="miter" fill="none"/>
<text x="193.50" y="165.90" font-size="16.3" fill="#2c2cff" font-weight="normal" textLength="26.70" lengthAdjust="spacingAndGlyphs">[SI]</text>
<text x="221.20" y="165.90" font-size="16.3" fill="#2c2cff" font-weight="normal" textLength="18.00" lengthAdjust="spacingAndGlyphs">56</text>
<text x="239.60" y="165.90" font-size="16.3" fill="#2c2cff" font-weight="normal" font-style="italic" textLength="10.40" lengthAdjust="spacingAndGlyphs">μ</text>
<text x="250.10" y="165.90" font-size="16.3" fill="#2c2cff" font-weight="normal" textLength="14.80" lengthAdjust="spacingAndGlyphs">m</text>
<path d="M192.1,161.2 L129.22178709245625,184.05588706311653" stroke="#2c2cff" stroke-width="0.9" fill="none"/>
<path d="M137.22,184.34 L129.22178709245625,184.05588706311653 L135.17,178.71" stroke="#0000ff" stroke-width="1.35" stroke-linejoin="miter" fill="none"/>
<text x="215.60" y="192.70" font-size="16.3" fill="#ff2c2c" font-weight="normal" textLength="27.40" lengthAdjust="spacingAndGlyphs">[OI]</text>
<text x="244.80" y="192.70" font-size="16.3" fill="#ff2c2c" font-weight="normal" textLength="25.40" lengthAdjust="spacingAndGlyphs">145</text>
<text x="272.00" y="192.70" font-size="16.3" fill="#ff2c2c" font-weight="normal" font-style="italic" textLength="9.90" lengthAdjust="spacingAndGlyphs">μ</text>
<text x="282.00" y="192.70" font-size="16.3" fill="#ff2c2c" font-weight="normal" textLength="15.00" lengthAdjust="spacingAndGlyphs">m</text>
<path d="M214.6,188.3 L121.58118988324543,231.05705390717063" stroke="#ff2c2c" stroke-width="0.9" fill="none"/>
<path d="M129.57,230.68 L121.58118988324543,231.05705390717063 L127.07,225.24" stroke="#ff0000" stroke-width="1.35" stroke-linejoin="miter" fill="none"/>
<text x="697.50" y="159.70" font-size="16.3" fill="#ff2cff" font-weight="normal" textLength="43.30" lengthAdjust="spacingAndGlyphs">water</text>
<text x="748.10" y="159.70" font-size="16.3" fill="#ff2cff" font-weight="normal" textLength="55.40" lengthAdjust="spacingAndGlyphs">vapour</text>
<text x="690.40" y="178.40" font-size="16.3" fill="#ff2cff" font-weight="normal" textLength="8.70" lengthAdjust="spacingAndGlyphs">2</text>
<text x="713.50" y="178.40" font-size="16.3" fill="#ff2cff" font-weight="normal" textLength="9.90" lengthAdjust="spacingAndGlyphs">−</text>
<text x="725.30" y="178.40" font-size="16.3" fill="#ff2cff" font-weight="normal" textLength="6.40" lengthAdjust="spacingAndGlyphs">1</text>
<text x="756.00" y="178.40" font-size="16.3" fill="#ff2cff" font-weight="normal" textLength="25.10" lengthAdjust="spacingAndGlyphs">101</text>
<text x="782.60" y="178.40" font-size="16.3" fill="#ff2cff" font-weight="normal" font-style="italic" textLength="9.10" lengthAdjust="spacingAndGlyphs">μ</text>
<text x="791.60" y="178.40" font-size="16.3" fill="#ff2cff" font-weight="normal" textLength="16.50" lengthAdjust="spacingAndGlyphs">m</text>
<text class="ss" x="699.00" y="181.80" font-size="10" fill="#ff2cff" font-weight="normal" textLength="13.70" lengthAdjust="spacingAndGlyphs">20</text>
<text class="ss" x="735.50" y="181.80" font-size="10" fill="#ff2cff" font-weight="normal" textLength="10.60" lengthAdjust="spacingAndGlyphs">11</text>
</svg>
</body></html>
